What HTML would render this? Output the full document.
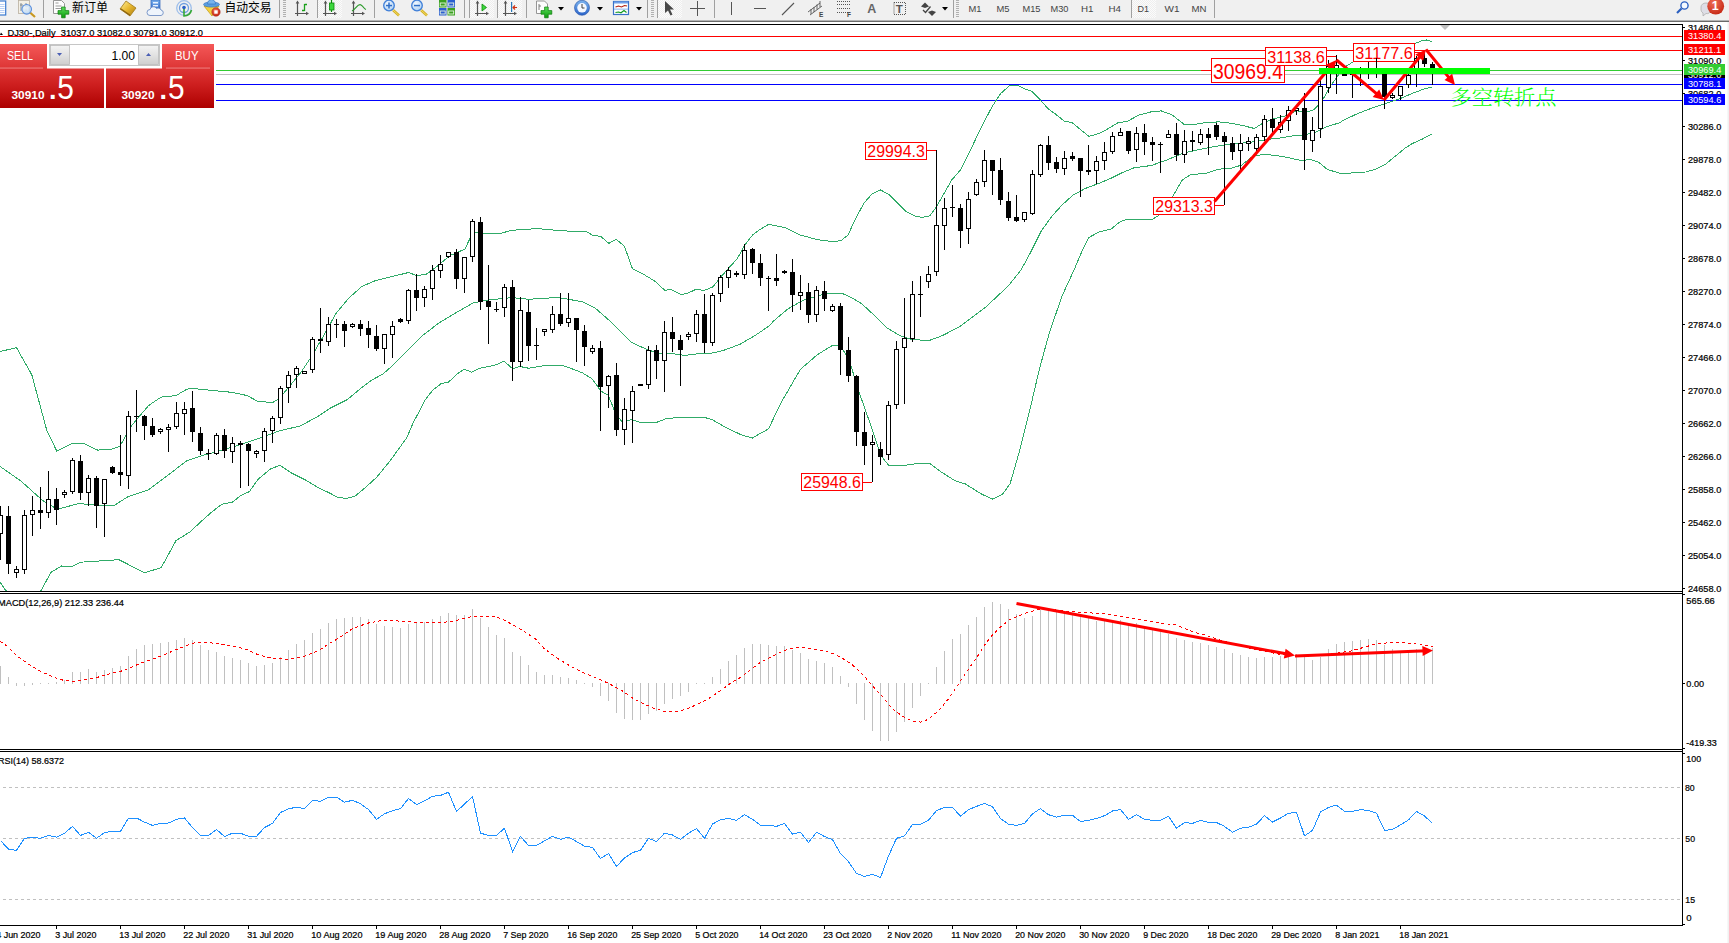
<!DOCTYPE html>
<html><head><meta charset="utf-8"><title>DJ30 Daily</title>
<style>html,body{margin:0;padding:0;background:#fff;overflow:hidden}svg{display:block}</style></head>
<body><svg width="1729" height="943" viewBox="0 0 1729 943" font-family='"Liberation Sans", "Noto Sans CJK SC", sans-serif'>
<rect x="0" y="0" width="1729" height="943" fill="#fff"/>
<rect x="0" y="0" width="1729" height="20" fill="#f0f0f0"/>
<rect x="0" y="20" width="1729" height="1" fill="#b4b4b4"/>
<rect x="0" y="21" width="1729" height="1" fill="#696969"/>
<defs><linearGradient id="gold" x1="0" y1="0" x2="1" y2="1"><stop offset="0" stop-color="#fff2a0"/><stop offset="0.5" stop-color="#e8b830"/><stop offset="1" stop-color="#a87810"/></linearGradient><linearGradient id="grn" x1="0" y1="0" x2="0" y2="1"><stop offset="0" stop-color="#5fe05f"/><stop offset="1" stop-color="#0a9a0a"/></linearGradient><linearGradient id="blu" x1="0" y1="0" x2="0" y2="1"><stop offset="0" stop-color="#7db4ee"/><stop offset="1" stop-color="#2a63c8"/></linearGradient><radialGradient id="lens" cx="0.4" cy="0.35" r="0.7"><stop offset="0" stop-color="#f4faff"/><stop offset="1" stop-color="#a9cdf2"/></radialGradient><radialGradient id="redb" cx="0.4" cy="0.3" r="0.8"><stop offset="0" stop-color="#f0705a"/><stop offset="1" stop-color="#c0200c"/></radialGradient><pattern id="dots" width="2" height="2" patternUnits="userSpaceOnUse"><rect width="2" height="2" fill="#fbfbfb"/><rect width="1" height="1" fill="#eeeeee"/><rect x="1" y="1" width="1" height="1" fill="#eeeeee"/></pattern></defs>
<rect x="-2" y="1" width="7.7" height="14" fill="#fff" stroke="#3b7bd0" stroke-width="1.2"/>
<rect x="0" y="4" width="4.5" height="1" fill="#b9d0f4"/>
<rect x="0" y="6" width="4.5" height="1" fill="#b9d0f4"/>
<rect x="0" y="8" width="4.5" height="1" fill="#b9d0f4"/>
<rect x="0" y="10" width="4.5" height="1" fill="#b9d0f4"/>
<rect x="0" y="12" width="4.5" height="1" fill="#b9d0f4"/>
<rect x="18.5" y="0.5" width="11" height="13" fill="#f4f0e6" stroke="#b8b0a0" stroke-width="0.8"/>
<path d="M21,3 v8 M26,3 v8 M20,5 h3 M25,6 h3" stroke="#707880" stroke-width="0.8" fill="none"/>
<line x1="30" y1="12.5" x2="35" y2="17" stroke="#c89820" stroke-width="2.2"/>
<circle cx="26.7" cy="9.3" r="4.8" fill="url(#lens)" fill-opacity="0.85" stroke="#5b8fdc" stroke-width="1.1"/>
<rect x="43" y="0" width="1" height="18" fill="#a0a0a0"/>
<path d="M53.5,0.5 h8 l3,3 v10 h-11 z" fill="#fdfdfd" stroke="#8a8a8a" stroke-width="0.9"/>
<path d="M55.5,3 h3 M55.5,6 h6 M55.5,8.5 h6" stroke="#909090" stroke-width="0.9"/>
<path d="M61.6,7 h3.6 v3.6 h3.6 v3.6 h-3.6 v3.6 h-3.6 v-3.6 h-3.6 v-3.6 h3.6 z" fill="url(#grn)" stroke="#0a7a0a" stroke-width="0.7"/>
<text x="72" y="12" font-size="12.2" fill="#000" textLength="36" lengthAdjust="spacingAndGlyphs">新订单</text>
<polygon points="120,9 126,1 136,8 130,16" fill="url(#gold)" stroke="#a07818" stroke-width="0.8"/>
<polygon points="120,9 130,16 130,14.5 121,8.3" fill="#8a6210"/>
<rect x="151" y="0" width="9" height="11" fill="url(#blu)" stroke="#2a5fb8" stroke-width="0.7"/>
<rect x="153" y="2" width="5" height="1.5" fill="#e8f2ff"/><rect x="153" y="5" width="5" height="1.5" fill="#e8f2ff"/>
<path d="M150,15.5 a3,3 0 0 1 0,-6 a3.5,3.5 0 0 1 6.5,-1 a3,3 0 0 1 4.5,1.5 a2.8,2.8 0 0 1 0,5.5 z" fill="#eef4fc" stroke="#6f8fc4" stroke-width="0.9"/>
<circle cx="184" cy="8" r="7.3" fill="none" stroke="#9fbfea" stroke-width="1.3"/>
<circle cx="184" cy="8" r="4.5" fill="none" stroke="#6f9fe0" stroke-width="1.3"/>
<path d="M184,8 v8 a8,8 0 0 0 7.5,-6" fill="none" stroke="#35a835" stroke-width="1.6"/>
<circle cx="184" cy="7.5" r="1.8" fill="#2a60c8"/>
<polygon points="204,6 219,6 212,16" fill="#f4d040" stroke="#c09a10" stroke-width="0.7"/>
<ellipse cx="211.5" cy="4.5" rx="8" ry="2.6" fill="#5a9ee0" stroke="#2f6fc0" stroke-width="0.6"/>
<path d="M207.5,4 a4,4.5 0 0 1 8,0 z" fill="#78b4ec" stroke="#2f6fc0" stroke-width="0.6"/>
<circle cx="216" cy="12" r="4.2" fill="url(#redb)" stroke="#a01808" stroke-width="0.5"/>
<rect x="214.3" y="10.3" width="3.4" height="3.4" fill="#fff"/>
<text x="224.5" y="12" font-size="12.2" fill="#000" textLength="47" lengthAdjust="spacingAndGlyphs">自动交易</text>
<rect x="279" y="0" width="1" height="18" fill="#a0a0a0"/>
<rect x="283" y="0" width="3" height="1" fill="#b0b0b0"/>
<rect x="283" y="2" width="3" height="1" fill="#b0b0b0"/>
<rect x="283" y="4" width="3" height="1" fill="#b0b0b0"/>
<rect x="283" y="6" width="3" height="1" fill="#b0b0b0"/>
<rect x="283" y="8" width="3" height="1" fill="#b0b0b0"/>
<rect x="283" y="10" width="3" height="1" fill="#b0b0b0"/>
<rect x="283" y="12" width="3" height="1" fill="#b0b0b0"/>
<rect x="283" y="14" width="3" height="1" fill="#b0b0b0"/>
<rect x="283" y="16" width="3" height="1" fill="#b0b0b0"/>
<path d="M297.5,2 V16 M295,13.5 H307.5" stroke="#555" stroke-width="1.2" fill="none"/>
<polygon points="297.5,0.5 295.7,3.5 299.3,3.5" fill="#555"/>
<polygon points="309,13.5 306,11.7 306,15.3" fill="#555"/>
<path d="M304.5,4 V11 M304.5,4.5 h2.5 M302,10.5 h2.5" stroke="#1aa01a" stroke-width="1.3" fill="none"/>
<rect x="317" y="0" width="1" height="18" fill="#a0a0a0"/>
<rect x="318" y="0" width="24" height="18" fill="url(#dots)"/>
<path d="M325.5,2 V16 M323,13.5 H335.5" stroke="#555" stroke-width="1.2" fill="none"/>
<polygon points="325.5,0.5 323.7,3.5 327.3,3.5" fill="#555"/>
<polygon points="337,13.5 334,11.7 334,15.3" fill="#555"/>
<path d="M331.5,0 V12" stroke="#0a8a0a" stroke-width="1.2"/>
<rect x="329.5" y="3" width="4.5" height="7" fill="#3ed83e" stroke="#0a8a0a" stroke-width="0.8"/>
<path d="M353.5,2 V16 M351,13.5 H363.5" stroke="#555" stroke-width="1.2" fill="none"/>
<polygon points="353.5,0.5 351.7,3.5 355.3,3.5" fill="#555"/>
<polygon points="365,13.5 362,11.7 362,15.3" fill="#555"/>
<path d="M352,11 C356,9 358,3 361,5 S364,9 366,9.5" fill="none" stroke="#2a9a2a" stroke-width="1.2"/>
<rect x="374" y="0" width="1" height="18" fill="#a0a0a0"/>
<line x1="393" y1="10" x2="399" y2="15.5" stroke="#d4b020" stroke-width="2.6"/>
<line x1="393" y1="10" x2="399" y2="15.5" stroke="#f4e070" stroke-width="0.9"/>
<circle cx="389" cy="5.5" r="5.3" fill="url(#lens)" stroke="#3f7fd8" stroke-width="1.3"/>
<rect x="386" y="4.8" width="6" height="1.5" fill="#2f6fc8"/>
<rect x="388.25" y="2.5" width="1.5" height="6" fill="#2f6fc8"/>
<line x1="421" y1="10" x2="427" y2="15.5" stroke="#d4b020" stroke-width="2.6"/>
<line x1="421" y1="10" x2="427" y2="15.5" stroke="#f4e070" stroke-width="0.9"/>
<circle cx="417" cy="5.5" r="5.3" fill="url(#lens)" stroke="#3f7fd8" stroke-width="1.3"/>
<rect x="414" y="4.8" width="6" height="1.5" fill="#2f6fc8"/>
<rect x="439" y="0" width="7.5" height="7.5" fill="#3aa020"/>
<rect x="440.2" y="3" width="5" height="3" fill="none" stroke="#e8f4e0" stroke-width="0.9"/>
<rect x="447.5" y="0" width="7.5" height="7.5" fill="#2a5fd0"/>
<rect x="448.7" y="3" width="5" height="3" fill="none" stroke="#e8f4e0" stroke-width="0.9"/>
<rect x="439" y="8" width="7.5" height="7.5" fill="#2a5fd0"/>
<rect x="440.2" y="11" width="5" height="3" fill="none" stroke="#e8f4e0" stroke-width="0.9"/>
<rect x="447.5" y="8" width="7.5" height="7.5" fill="#3aa020"/>
<rect x="448.7" y="11" width="5" height="3" fill="none" stroke="#e8f4e0" stroke-width="0.9"/>
<rect x="464" y="0" width="1" height="18" fill="#a0a0a0"/>
<rect x="469" y="0" width="1" height="18" fill="#a0a0a0"/>
<rect x="470" y="0" width="24" height="18" fill="url(#dots)"/>
<path d="M477.5,2 V16 M475,13.5 H487.5" stroke="#555" stroke-width="1.2" fill="none"/>
<polygon points="477.5,0.5 475.7,3.5 479.3,3.5" fill="#555"/>
<polygon points="489,13.5 486,11.7 486,15.3" fill="#555"/>
<polygon points="482,4 486.5,7.5 482,11" fill="#3ed83e" stroke="#0a8a0a" stroke-width="0.8"/>
<rect x="497" y="0" width="1" height="18" fill="#a0a0a0"/>
<rect x="498" y="0" width="24" height="18" fill="url(#dots)"/>
<path d="M505.5,2 V16 M503,13.5 H515.5" stroke="#555" stroke-width="1.2" fill="none"/>
<polygon points="505.5,0.5 503.7,3.5 507.3,3.5" fill="#555"/>
<polygon points="517,13.5 514,11.7 514,15.3" fill="#555"/>
<rect x="511" y="2" width="1.2" height="10" fill="#2a78b8"/>
<path d="M517,7.5 h-4 M515,5.5 l-2,2 l2,2" stroke="#d03010" stroke-width="1.1" fill="none"/>
<rect x="526" y="0" width="1" height="18" fill="#a0a0a0"/>
<path d="M536.5,1 h8 l3,3 v9.5 h-11 z" fill="#fdfdfd" stroke="#8a8a8a" stroke-width="0.9"/>
<path d="M539,4 v6 M539,6 h2" stroke="#707070" stroke-width="0.9"/>
<path d="M544.6,7 h3.6 v3.6 h3.6 v3.6 h-3.6 v3.6 h-3.6 v-3.6 h-3.6 v-3.6 h3.6 z" fill="url(#grn)" stroke="#0a7a0a" stroke-width="0.7"/>
<polygon points="558,7 564,7 561,10.5" fill="#000"/>
<circle cx="582" cy="7.8" r="7.5" fill="url(#blu)" stroke="#1f4fa8" stroke-width="0.6"/>
<circle cx="582" cy="7.8" r="4.8" fill="#f4f8ff"/>
<path d="M582,4 v4 h2.5" stroke="#404040" stroke-width="1" fill="none"/>
<polygon points="597,7 603,7 600,10.5" fill="#000"/>
<rect x="613.5" y="1.5" width="15" height="13" fill="#fff" stroke="#3a72c8" stroke-width="1.2"/>
<rect x="614" y="1.5" width="14" height="2" fill="#6fa0e8"/>
<path d="M615.5,7 l3,-1 l3,1 l3,-1.5 l2.5,0.5" stroke="#b02010" stroke-width="1.1" fill="none"/>
<rect x="614" y="8.7" width="14" height="0.8" fill="#6fa0e8"/>
<path d="M615.5,12.5 l3,-0.5 l2.5,0.8 l3,-2.3 l2.5,2" stroke="#109a20" stroke-width="1.1" fill="none"/>
<polygon points="636,7 642,7 639,10.5" fill="#000"/>
<rect x="647" y="0" width="1" height="18" fill="#a0a0a0"/>
<rect x="651" y="0" width="3" height="1" fill="#b0b0b0"/>
<rect x="651" y="2" width="3" height="1" fill="#b0b0b0"/>
<rect x="651" y="4" width="3" height="1" fill="#b0b0b0"/>
<rect x="651" y="6" width="3" height="1" fill="#b0b0b0"/>
<rect x="651" y="8" width="3" height="1" fill="#b0b0b0"/>
<rect x="651" y="10" width="3" height="1" fill="#b0b0b0"/>
<rect x="651" y="12" width="3" height="1" fill="#b0b0b0"/>
<rect x="651" y="14" width="3" height="1" fill="#b0b0b0"/>
<rect x="651" y="16" width="3" height="1" fill="#b0b0b0"/>
<rect x="657" y="0" width="1" height="18" fill="#a0a0a0"/>
<rect x="658" y="0" width="24" height="18" fill="url(#dots)"/>
<polygon points="665,1 665,13 668,10.5 670.5,15.5 672.5,14.5 670,9.5 674,9.5" fill="#484848"/>
<path d="M697.5,1 V16 M690,8.5 H705" stroke="#555" stroke-width="1"/>
<rect x="714" y="0" width="1" height="18" fill="#a0a0a0"/>
<rect x="731" y="2" width="1" height="13" fill="#555"/>
<rect x="754" y="8" width="12" height="1" fill="#555"/>
<line x1="782" y1="15" x2="794" y2="3" stroke="#555" stroke-width="1.1"/>
<path d="M808,12 l12,-9 M810,15 l12,-9 M811,9 v5 M814,7 v5 M817,4.5 v5 M820,1 v6" stroke="#555" stroke-width="0.9" fill="none"/>
<text x="819" y="17" font-size="6.5" font-weight="bold" fill="#444">E</text>
<line x1="837" y1="1.5" x2="850" y2="1.5" stroke="#555" stroke-width="1" stroke-dasharray="1 1"/>
<line x1="837" y1="4.5" x2="850" y2="4.5" stroke="#555" stroke-width="1" stroke-dasharray="1 1"/>
<line x1="837" y1="8.5" x2="850" y2="8.5" stroke="#555" stroke-width="1" stroke-dasharray="1 1"/>
<line x1="837" y1="12.5" x2="850" y2="12.5" stroke="#555" stroke-width="1" stroke-dasharray="1 1"/>
<text x="847" y="17" font-size="6.5" font-weight="bold" fill="#444">F</text>
<text x="867.3" y="13" font-size="12.5" font-weight="bold" fill="#666">A</text>
<rect x="894" y="2.5" width="11.5" height="12" fill="none" stroke="#555" stroke-width="1" stroke-dasharray="1 1"/>
<text x="895.8" y="13" font-size="11.5" font-weight="bold" fill="#555">T</text>
<polygon points="921,6.5 925,2.5 929,6.5 925,8" fill="#444"/>
<polygon points="928,12 932,10.5 936,12 932,16" fill="#444"/>
<path d="M923,10 l2.5,2.5 l5,-6" stroke="#444" stroke-width="1.3" fill="none"/>
<polygon points="942,7 948,7 945,10.5" fill="#000"/>
<rect x="953" y="0" width="1" height="18" fill="#a0a0a0"/>
<rect x="956" y="0" width="3" height="1" fill="#b0b0b0"/>
<rect x="956" y="2" width="3" height="1" fill="#b0b0b0"/>
<rect x="956" y="4" width="3" height="1" fill="#b0b0b0"/>
<rect x="956" y="6" width="3" height="1" fill="#b0b0b0"/>
<rect x="956" y="8" width="3" height="1" fill="#b0b0b0"/>
<rect x="956" y="10" width="3" height="1" fill="#b0b0b0"/>
<rect x="956" y="12" width="3" height="1" fill="#b0b0b0"/>
<rect x="956" y="14" width="3" height="1" fill="#b0b0b0"/>
<rect x="956" y="16" width="3" height="1" fill="#b0b0b0"/>
<text x="968.5" y="12.2" font-size="9.6" fill="#444" textLength="13" lengthAdjust="spacingAndGlyphs">M1</text>
<text x="996.5" y="12.2" font-size="9.6" fill="#444" textLength="13" lengthAdjust="spacingAndGlyphs">M5</text>
<text x="1022.5" y="12.2" font-size="9.6" fill="#444" textLength="18" lengthAdjust="spacingAndGlyphs">M15</text>
<text x="1050.5" y="12.2" font-size="9.6" fill="#444" textLength="18" lengthAdjust="spacingAndGlyphs">M30</text>
<text x="1081" y="12.2" font-size="9.6" fill="#444" textLength="12.5" lengthAdjust="spacingAndGlyphs">H1</text>
<text x="1108.5" y="12.2" font-size="9.6" fill="#444" textLength="12.5" lengthAdjust="spacingAndGlyphs">H4</text>
<rect x="1131" y="0" width="1" height="18" fill="#a0a0a0"/>
<rect x="1132" y="0" width="24" height="18" fill="url(#dots)"/>
<text x="1137.5" y="12.2" font-size="9.6" fill="#444" textLength="11.5" lengthAdjust="spacingAndGlyphs">D1</text>
<text x="1164.5" y="12.2" font-size="9.6" fill="#444" textLength="15" lengthAdjust="spacingAndGlyphs">W1</text>
<text x="1191.5" y="12.2" font-size="9.6" fill="#444" textLength="15" lengthAdjust="spacingAndGlyphs">MN</text>
<rect x="1214" y="0" width="1" height="18" fill="#a0a0a0"/>
<line x1="1677" y1="13" x2="1681.5" y2="8.5" stroke="#2a5fc0" stroke-width="2.2"/>
<circle cx="1684.5" cy="5.5" r="3.6" fill="#f4f9ff" stroke="#2a5fc0" stroke-width="1.4"/>
<path d="M1701,7 a5,4 0 0 1 10,0 v3 a4,4 0 0 1 -5,3.5 l-3,2.5 v-3 a4,4 0 0 1 -2,-3 z" fill="#dedee6" stroke="#b0b0b0" stroke-width="0.8"/>
<circle cx="1715.7" cy="6.2" r="8.4" fill="url(#redb)"/>
<text x="1715.3" y="10" font-size="12.5" font-weight="bold" fill="#fff" text-anchor="middle">1</text>
<rect x="1727.5" y="22" width="1.5" height="921" fill="#f0f0f0"/>
<rect x="0" y="24" width="1683" height="1" fill="#000"/>
<rect x="0" y="591" width="1683" height="1" fill="#000"/>
<rect x="0" y="593" width="1683" height="1" fill="#000"/>
<rect x="0" y="749" width="1683" height="1" fill="#000"/>
<rect x="0" y="751" width="1683" height="1" fill="#000"/>
<rect x="0" y="925" width="1683" height="1" fill="#000"/>
<rect x="1682" y="24" width="1" height="902" fill="#000"/>
<g shape-rendering="crispEdges">
<rect x="0" y="36" width="1682" height="1" fill="#ff0000"/>
<rect x="216" y="50" width="1466" height="1" fill="#ff0000"/>
<rect x="216" y="70" width="1466" height="1" fill="#32cd32"/>
<rect x="216" y="74" width="1466" height="1" fill="#c0c0c0"/>
<rect x="216" y="84" width="1466" height="1" fill="#0000ff"/>
<rect x="216" y="100" width="1466" height="1" fill="#0000ff"/>
</g>
<defs><clipPath id="cm"><rect x="0" y="25" width="1682" height="566"/></clipPath></defs>
<g clip-path="url(#cm)">
<polyline points="0.0,351.5 16.5,347.7 31.8,374.8 46.7,430.0 56.8,451.2 73.2,443.1 84.8,443.8 97.6,450.1 112.4,449.0 119.8,446.5 131.5,425.7 148.5,405.6 161.2,397.1 176.0,395.6 186.6,389.3 193.0,388.0 200.0,389.3 211.2,390.3 232.4,392.4 247.3,395.6 257.9,401.5 272.7,402.4 279.1,398.8 289.7,386.0 300.3,373.3 310.9,357.4 321.5,339.4 336.3,312.9 349.0,298.0 361.8,286.4 374.5,281.0 380.0,279.5 394.8,275.9 408.6,272.5 416.0,275.3 425.6,274.7 435.1,267.9 450.0,255.6 464.8,249.2 473.3,231.8 481.8,233.9 498.8,233.9 511.5,230.3 537.0,228.6 562.4,230.8 572.0,231.2 585.6,231.2 592.6,235.3 600.7,236.4 608.8,243.4 616.3,239.3 624.4,246.3 632.5,268.8 644.0,274.6 655.6,281.6 664.9,290.5 670.6,289.1 681.0,294.6 688.0,293.1 696.1,289.3 704.2,290.5 712.9,286.8 720.4,277.5 728.5,268.2 737.1,259.0 744.7,245.1 752.8,234.7 760.9,228.9 768.5,224.4 785.5,227.6 800.3,235.0 817.3,239.6 830.0,241.3 840.6,240.9 848.0,235.0 855.4,219.1 863.9,203.2 872.4,193.6 880.5,190.0 889.4,194.7 897.9,203.2 906.3,211.7 914.8,215.9 922.2,217.4 929.7,215.9 936.0,207.4 944.5,192.6 951.9,179.8 960.6,169.7 971.2,148.5 981.8,126.2 992.4,106.1 1000.9,93.3 1009.4,85.9 1017.9,85.3 1026.4,89.5 1031.7,91.2 1039.1,98.6 1047.6,108.2 1056.0,114.5 1064.5,121.3 1072.0,122.6 1081.5,130.4 1088.9,136.4 1098.5,133.6 1107.0,129.4 1117.6,123.0 1128.2,120.9 1138.8,115.0 1150.6,112.0 1161.2,110.9 1171.8,114.7 1184.5,124.7 1195.1,124.3 1205.7,122.6 1218.5,121.9 1231.2,123.2 1241.8,125.3 1254.5,128.5 1262.0,123.6 1271.5,119.4 1284.2,116.2 1296.9,110.9 1307.5,112.0 1313.9,109.8 1322.4,100.3 1330.9,85.5 1340.0,72.7 1345.5,66.7 1353.2,61.8 1415.0,43.4 1421.9,40.8 1426.5,40.0 1432.0,41.4" fill="none" stroke="#30ab68" stroke-width="1" shape-rendering="crispEdges"/>
<polyline points="0.0,466.4 21.2,481.2 42.4,500.3 57.3,509.4 78.5,503.5 97.6,505.2 114.5,505.2 127.3,497.1 148.5,489.7 169.7,473.8 186.6,461.0 200.0,456.2 207.0,454.3 223.9,449.7 240.9,444.4 260.0,438.0 279.1,431.0 300.3,425.9 317.3,416.8 330.0,408.3 347.0,399.8 359.7,389.2 372.4,379.7 383.0,374.0 392.7,365.4 405.4,352.7 422.4,335.7 439.4,322.6 456.4,312.4 473.3,302.9 490.3,299.7 503.0,298.6 511.5,297.6 528.5,299.3 545.4,298.2 558.2,297.6 570.9,299.7 582.7,302.0 595.5,308.3 612.4,323.2 631.5,342.3 646.4,349.3 659.1,353.5 671.8,353.5 684.5,355.4 697.3,353.9 710.0,353.5 722.7,350.7 739.7,344.4 754.5,335.9 770.0,325.3 772.7,321.8 787.6,309.1 802.4,300.6 819.4,295.3 832.1,293.2 841.7,293.2 851.2,297.4 861.8,303.8 874.5,315.5 887.3,328.2 900.0,335.6 912.7,339.8 929.7,340.3 942.4,335.6 960.0,326.5 985.8,307.1 1008.7,285.5 1021.0,270.0 1030.6,252.4 1041.2,231.2 1051.8,216.3 1062.4,204.7 1073.0,195.1 1085.7,188.3 1098.5,183.5 1111.2,178.2 1121.8,172.9 1134.5,167.6 1146.0,166.3 1152.7,165.0 1167.6,159.7 1182.4,153.3 1199.4,149.5 1214.2,146.5 1229.1,144.4 1241.8,143.1 1254.5,141.7 1267.2,139.5 1280.0,138.0 1292.7,135.9 1305.4,134.7 1316.0,132.1 1326.6,126.8 1340.0,122.6 1343.7,120.0 1358.3,113.3 1375.4,106.8 1387.6,102.9 1399.8,98.8 1412.0,93.5 1424.0,89.0 1432.0,87.2" fill="none" stroke="#30ab68" stroke-width="1" shape-rendering="crispEdges"/>
<polyline points="0.0,582.0 5.3,590.0 23.0,604.0 41.4,590.0 50.9,572.4 61.5,566.0 72.0,566.5 80.6,562.2 118.8,559.7 127.3,563.9 144.2,572.8 161.2,567.7 176.0,540.6 190.0,531.9 200.6,522.0 211.2,512.4 221.8,504.3 232.4,502.2 240.9,495.4 249.4,491.6 257.9,479.5 270.6,468.9 280.1,465.3 291.8,473.2 304.5,479.5 317.3,487.0 330.0,493.3 338.5,497.6 347.0,498.4 355.4,495.9 366.0,487.0 376.6,477.4 389.5,461.6 406.9,437.6 413.3,422.4 419.6,410.9 424.7,400.7 432.4,390.5 441.3,383.5 448.3,382.3 457.8,373.4 464.2,369.2 471.8,372.3 479.4,368.3 490.0,366.1 494.5,365.4 504.0,361.2 512.5,368.6 520.0,366.5 528.5,368.2 545.4,365.4 562.4,365.4 572.0,368.8 582.7,373.0 592.3,379.0 600.8,391.0 608.2,395.3 615.6,413.3 622.0,421.8 631.5,419.7 640.0,422.2 657.0,422.2 665.4,419.0 680.3,417.1 703.6,417.1 712.1,419.7 727.0,428.2 741.8,435.0 752.4,438.1 760.5,433.3 768.5,428.9 781.2,402.4 800.3,369.5 817.3,354.7 832.1,345.6 840.6,345.6 849.1,360.0 859.7,393.9 872.4,430.0 880.9,455.4 888.3,465.0 900.0,466.0 917.0,463.5 929.7,463.5 940.0,471.2 955.3,480.9 965.5,484.0 980.7,493.6 992.2,499.2 1002.4,494.2 1010.0,484.0 1018.9,453.4 1031.6,402.5 1039.3,369.4 1049.4,332.5 1062.2,295.6 1074.0,270.0 1081.5,252.4 1088.9,237.5 1098.5,232.2 1111.2,229.0 1119.7,222.0 1126.0,219.5 1146.0,219.2 1152.7,219.1 1161.2,213.8 1171.8,197.9 1182.4,179.8 1190.9,174.5 1205.7,173.5 1218.5,169.2 1231.2,168.2 1241.8,165.0 1252.4,156.5 1263.0,154.4 1275.7,155.4 1288.5,157.6 1301.2,160.6 1311.0,159.5 1319.0,162.5 1327.5,169.5 1335.1,171.8 1341.2,173.5 1353.4,172.9 1365.6,172.0 1375.4,169.3 1385.1,164.6 1394.9,156.5 1404.6,148.5 1412.0,143.7 1421.7,139.4 1432.0,133.9" fill="none" stroke="#30ab68" stroke-width="1" shape-rendering="crispEdges"/>
<line x1="862" y1="482.5" x2="872" y2="482.5" stroke="#f00" stroke-width="1" shape-rendering="crispEdges"/>
<rect x="801.5" y="473.5" width="61" height="17" fill="#fff" stroke="#f00" stroke-width="1"/>
<text x="803.3" y="488" font-size="16.3" fill="#f00" textLength="57.5" lengthAdjust="spacingAndGlyphs" >25948.6</text>
<line x1="926" y1="150.5" x2="936" y2="150.5" stroke="#f00" stroke-width="1" shape-rendering="crispEdges"/>
<rect x="865.5" y="142.5" width="61" height="17" fill="#fff" stroke="#f00" stroke-width="1"/>
<text x="867.3" y="157" font-size="16.3" fill="#f00" textLength="57.5" lengthAdjust="spacingAndGlyphs" >29994.3</text>
<line x1="1214" y1="205.5" x2="1224" y2="205.5" stroke="#f00" stroke-width="1" shape-rendering="crispEdges"/>
<rect x="1153.5" y="197.5" width="61" height="17" fill="#fff" stroke="#f00" stroke-width="1"/>
<text x="1155.3" y="212" font-size="16.3" fill="#f00" textLength="57.5" lengthAdjust="spacingAndGlyphs" >29313.3</text>
<line x1="1201" y1="70.5" x2="1211" y2="70.5" stroke="#f00" stroke-width="1" shape-rendering="crispEdges"/>
<rect x="1211.5" y="58.5" width="73" height="24" fill="#fff" stroke="#f00" stroke-width="1"/>
<text x="1213" y="79" font-size="22" fill="#f00" textLength="70" lengthAdjust="spacingAndGlyphs" >30969.4</text>
<line x1="1326" y1="56.5" x2="1336" y2="56.5" stroke="#f00" stroke-width="1" shape-rendering="crispEdges"/>
<rect x="1265.5" y="47.5" width="61" height="18" fill="#fff" stroke="#f00" stroke-width="1"/>
<text x="1267.3" y="62.5" font-size="16.3" fill="#f00" textLength="57.5" lengthAdjust="spacingAndGlyphs" >31138.6</text>
<line x1="1414" y1="52.5" x2="1424" y2="52.5" stroke="#f00" stroke-width="1" shape-rendering="crispEdges"/>
<rect x="1353.5" y="43.5" width="61" height="18" fill="#fff" stroke="#f00" stroke-width="1"/>
<text x="1355.3" y="58.5" font-size="16.3" fill="#f00" textLength="57.5" lengthAdjust="spacingAndGlyphs" >31177.6</text>
<g shape-rendering="crispEdges">
<rect x="0" y="506" width="1" height="54" fill="#000"/>
<rect x="-2" y="515" width="5" height="19" fill="#000"/>
<rect x="-1" y="516" width="3" height="17" fill="#fff"/>
<rect x="8" y="506" width="1" height="68" fill="#000"/>
<rect x="6" y="516" width="5" height="48" fill="#000"/>
<rect x="16" y="566" width="1" height="12" fill="#000"/>
<rect x="14" y="569" width="5" height="4" fill="#000"/>
<rect x="15" y="570" width="3" height="2" fill="#fff"/>
<rect x="24" y="510" width="1" height="64" fill="#000"/>
<rect x="22" y="515" width="5" height="55" fill="#000"/>
<rect x="23" y="516" width="3" height="53" fill="#fff"/>
<rect x="32" y="496" width="1" height="40" fill="#000"/>
<rect x="30" y="510" width="5" height="5" fill="#000"/>
<rect x="31" y="511" width="3" height="3" fill="#fff"/>
<rect x="40" y="487" width="1" height="42" fill="#000"/>
<rect x="38" y="510" width="5" height="3" fill="#000"/>
<rect x="48" y="471" width="1" height="47" fill="#000"/>
<rect x="46" y="499" width="5" height="14" fill="#000"/>
<rect x="47" y="500" width="3" height="12" fill="#fff"/>
<rect x="56" y="488" width="1" height="37" fill="#000"/>
<rect x="54" y="499" width="5" height="11" fill="#000"/>
<rect x="64" y="490" width="1" height="8" fill="#000"/>
<rect x="62" y="492" width="5" height="3" fill="#000"/>
<rect x="63" y="493" width="3" height="1" fill="#fff"/>
<rect x="72" y="458" width="1" height="36" fill="#000"/>
<rect x="70" y="460" width="5" height="32" fill="#000"/>
<rect x="71" y="461" width="3" height="30" fill="#fff"/>
<rect x="80" y="455" width="1" height="45" fill="#000"/>
<rect x="78" y="461" width="5" height="32" fill="#000"/>
<rect x="88" y="475" width="1" height="31" fill="#000"/>
<rect x="86" y="478" width="5" height="15" fill="#000"/>
<rect x="87" y="479" width="3" height="13" fill="#fff"/>
<rect x="96" y="476" width="1" height="52" fill="#000"/>
<rect x="94" y="478" width="5" height="28" fill="#000"/>
<rect x="104" y="479" width="1" height="58" fill="#000"/>
<rect x="102" y="479" width="5" height="25" fill="#000"/>
<rect x="103" y="480" width="3" height="23" fill="#fff"/>
<rect x="112" y="466" width="1" height="8" fill="#000"/>
<rect x="110" y="467" width="5" height="6" fill="#000"/>
<rect x="120" y="435" width="1" height="51" fill="#000"/>
<rect x="118" y="472" width="5" height="3" fill="#000"/>
<rect x="128" y="411" width="1" height="78" fill="#000"/>
<rect x="126" y="416" width="5" height="60" fill="#000"/>
<rect x="127" y="417" width="3" height="58" fill="#fff"/>
<rect x="136" y="390" width="1" height="42" fill="#000"/>
<rect x="134" y="416" width="5" height="1" fill="#000"/>
<rect x="144" y="415" width="1" height="25" fill="#000"/>
<rect x="142" y="416" width="5" height="10" fill="#000"/>
<rect x="152" y="418" width="1" height="19" fill="#000"/>
<rect x="150" y="426" width="5" height="9" fill="#000"/>
<rect x="160" y="428" width="1" height="6" fill="#000"/>
<rect x="158" y="429" width="5" height="3" fill="#000"/>
<rect x="159" y="430" width="3" height="1" fill="#fff"/>
<rect x="168" y="424" width="1" height="28" fill="#000"/>
<rect x="166" y="427" width="5" height="3" fill="#000"/>
<rect x="167" y="428" width="3" height="1" fill="#fff"/>
<rect x="176" y="402" width="1" height="27" fill="#000"/>
<rect x="174" y="413" width="5" height="14" fill="#000"/>
<rect x="175" y="414" width="3" height="12" fill="#fff"/>
<rect x="184" y="402" width="1" height="33" fill="#000"/>
<rect x="182" y="409" width="5" height="5" fill="#000"/>
<rect x="183" y="410" width="3" height="3" fill="#fff"/>
<rect x="192" y="391" width="1" height="51" fill="#000"/>
<rect x="190" y="408" width="5" height="24" fill="#000"/>
<rect x="200" y="427" width="1" height="28" fill="#000"/>
<rect x="198" y="433" width="5" height="18" fill="#000"/>
<rect x="208" y="449" width="1" height="11" fill="#000"/>
<rect x="206" y="453" width="5" height="1" fill="#000"/>
<rect x="216" y="433" width="1" height="22" fill="#000"/>
<rect x="214" y="435" width="5" height="19" fill="#000"/>
<rect x="215" y="436" width="3" height="17" fill="#fff"/>
<rect x="224" y="429" width="1" height="29" fill="#000"/>
<rect x="222" y="435" width="5" height="16" fill="#000"/>
<rect x="232" y="437" width="1" height="26" fill="#000"/>
<rect x="230" y="443" width="5" height="9" fill="#000"/>
<rect x="231" y="444" width="3" height="7" fill="#fff"/>
<rect x="240" y="441" width="1" height="47" fill="#000"/>
<rect x="238" y="443" width="5" height="2" fill="#000"/>
<rect x="248" y="443" width="1" height="43" fill="#000"/>
<rect x="246" y="444" width="5" height="7" fill="#000"/>
<rect x="256" y="450" width="1" height="8" fill="#000"/>
<rect x="254" y="451" width="5" height="3" fill="#000"/>
<rect x="255" y="452" width="3" height="1" fill="#fff"/>
<rect x="264" y="428" width="1" height="34" fill="#000"/>
<rect x="262" y="431" width="5" height="20" fill="#000"/>
<rect x="263" y="432" width="3" height="18" fill="#fff"/>
<rect x="272" y="416" width="1" height="27" fill="#000"/>
<rect x="270" y="418" width="5" height="13" fill="#000"/>
<rect x="271" y="419" width="3" height="11" fill="#fff"/>
<rect x="280" y="386" width="1" height="38" fill="#000"/>
<rect x="278" y="388" width="5" height="30" fill="#000"/>
<rect x="279" y="389" width="3" height="28" fill="#fff"/>
<rect x="288" y="371" width="1" height="32" fill="#000"/>
<rect x="286" y="375" width="5" height="13" fill="#000"/>
<rect x="287" y="376" width="3" height="11" fill="#fff"/>
<rect x="296" y="366" width="1" height="22" fill="#000"/>
<rect x="294" y="368" width="5" height="7" fill="#000"/>
<rect x="295" y="369" width="3" height="5" fill="#fff"/>
<rect x="304" y="371" width="1" height="3" fill="#000"/>
<rect x="302" y="371" width="5" height="3" fill="#000"/>
<rect x="303" y="372" width="3" height="1" fill="#fff"/>
<rect x="312" y="337" width="1" height="36" fill="#000"/>
<rect x="310" y="339" width="5" height="31" fill="#000"/>
<rect x="311" y="340" width="3" height="29" fill="#fff"/>
<rect x="320" y="308" width="1" height="45" fill="#000"/>
<rect x="318" y="339" width="5" height="2" fill="#000"/>
<rect x="328" y="317" width="1" height="29" fill="#000"/>
<rect x="326" y="324" width="5" height="18" fill="#000"/>
<rect x="327" y="325" width="3" height="16" fill="#fff"/>
<rect x="336" y="319" width="1" height="19" fill="#000"/>
<rect x="334" y="324" width="5" height="1" fill="#000"/>
<rect x="344" y="321" width="1" height="26" fill="#000"/>
<rect x="342" y="324" width="5" height="7" fill="#000"/>
<rect x="352" y="323" width="1" height="5" fill="#000"/>
<rect x="350" y="324" width="5" height="3" fill="#000"/>
<rect x="351" y="325" width="3" height="1" fill="#fff"/>
<rect x="360" y="320" width="1" height="16" fill="#000"/>
<rect x="358" y="324" width="5" height="5" fill="#000"/>
<rect x="368" y="321" width="1" height="27" fill="#000"/>
<rect x="366" y="328" width="5" height="7" fill="#000"/>
<rect x="376" y="325" width="1" height="26" fill="#000"/>
<rect x="374" y="336" width="5" height="13" fill="#000"/>
<rect x="384" y="334" width="1" height="30" fill="#000"/>
<rect x="382" y="334" width="5" height="15" fill="#000"/>
<rect x="383" y="335" width="3" height="13" fill="#fff"/>
<rect x="392" y="321" width="1" height="37" fill="#000"/>
<rect x="390" y="326" width="5" height="9" fill="#000"/>
<rect x="391" y="327" width="3" height="7" fill="#fff"/>
<rect x="400" y="318" width="1" height="5" fill="#000"/>
<rect x="398" y="319" width="5" height="3" fill="#000"/>
<rect x="408" y="289" width="1" height="35" fill="#000"/>
<rect x="406" y="290" width="5" height="31" fill="#000"/>
<rect x="407" y="291" width="3" height="29" fill="#fff"/>
<rect x="416" y="274" width="1" height="37" fill="#000"/>
<rect x="414" y="290" width="5" height="8" fill="#000"/>
<rect x="424" y="286" width="1" height="21" fill="#000"/>
<rect x="422" y="289" width="5" height="9" fill="#000"/>
<rect x="423" y="290" width="3" height="7" fill="#fff"/>
<rect x="432" y="265" width="1" height="35" fill="#000"/>
<rect x="430" y="270" width="5" height="19" fill="#000"/>
<rect x="431" y="271" width="3" height="17" fill="#fff"/>
<rect x="440" y="255" width="1" height="23" fill="#000"/>
<rect x="438" y="264" width="5" height="7" fill="#000"/>
<rect x="439" y="265" width="3" height="5" fill="#fff"/>
<rect x="448" y="252" width="1" height="6" fill="#000"/>
<rect x="446" y="252" width="5" height="5" fill="#000"/>
<rect x="447" y="253" width="3" height="3" fill="#fff"/>
<rect x="456" y="249" width="1" height="40" fill="#000"/>
<rect x="454" y="252" width="5" height="27" fill="#000"/>
<rect x="464" y="257" width="1" height="36" fill="#000"/>
<rect x="462" y="257" width="5" height="22" fill="#000"/>
<rect x="463" y="258" width="3" height="20" fill="#fff"/>
<rect x="472" y="219" width="1" height="43" fill="#000"/>
<rect x="470" y="221" width="5" height="36" fill="#000"/>
<rect x="471" y="222" width="3" height="34" fill="#fff"/>
<rect x="480" y="217" width="1" height="93" fill="#000"/>
<rect x="478" y="222" width="5" height="80" fill="#000"/>
<rect x="488" y="265" width="1" height="79" fill="#000"/>
<rect x="486" y="301" width="5" height="6" fill="#000"/>
<rect x="496" y="302" width="1" height="10" fill="#000"/>
<rect x="494" y="309" width="5" height="1" fill="#000"/>
<rect x="504" y="284" width="1" height="33" fill="#000"/>
<rect x="502" y="287" width="5" height="21" fill="#000"/>
<rect x="503" y="288" width="3" height="19" fill="#fff"/>
<rect x="512" y="280" width="1" height="101" fill="#000"/>
<rect x="510" y="287" width="5" height="75" fill="#000"/>
<rect x="520" y="297" width="1" height="70" fill="#000"/>
<rect x="518" y="310" width="5" height="52" fill="#000"/>
<rect x="519" y="311" width="3" height="50" fill="#fff"/>
<rect x="528" y="300" width="1" height="61" fill="#000"/>
<rect x="526" y="312" width="5" height="34" fill="#000"/>
<rect x="536" y="328" width="1" height="32" fill="#000"/>
<rect x="534" y="345" width="5" height="1" fill="#000"/>
<rect x="544" y="329" width="1" height="7" fill="#000"/>
<rect x="542" y="329" width="5" height="3" fill="#000"/>
<rect x="543" y="330" width="3" height="1" fill="#fff"/>
<rect x="552" y="306" width="1" height="27" fill="#000"/>
<rect x="550" y="314" width="5" height="16" fill="#000"/>
<rect x="551" y="315" width="3" height="14" fill="#fff"/>
<rect x="560" y="293" width="1" height="33" fill="#000"/>
<rect x="558" y="314" width="5" height="10" fill="#000"/>
<rect x="568" y="293" width="1" height="34" fill="#000"/>
<rect x="566" y="318" width="5" height="5" fill="#000"/>
<rect x="567" y="319" width="3" height="3" fill="#fff"/>
<rect x="576" y="318" width="1" height="44" fill="#000"/>
<rect x="574" y="318" width="5" height="12" fill="#000"/>
<rect x="584" y="325" width="1" height="41" fill="#000"/>
<rect x="582" y="331" width="5" height="16" fill="#000"/>
<rect x="592" y="345" width="1" height="9" fill="#000"/>
<rect x="590" y="348" width="5" height="4" fill="#000"/>
<rect x="591" y="349" width="3" height="2" fill="#fff"/>
<rect x="600" y="341" width="1" height="90" fill="#000"/>
<rect x="598" y="348" width="5" height="39" fill="#000"/>
<rect x="608" y="375" width="1" height="33" fill="#000"/>
<rect x="606" y="376" width="5" height="10" fill="#000"/>
<rect x="607" y="377" width="3" height="8" fill="#fff"/>
<rect x="616" y="363" width="1" height="73" fill="#000"/>
<rect x="614" y="375" width="5" height="55" fill="#000"/>
<rect x="624" y="398" width="1" height="47" fill="#000"/>
<rect x="622" y="409" width="5" height="21" fill="#000"/>
<rect x="623" y="410" width="3" height="19" fill="#fff"/>
<rect x="632" y="386" width="1" height="57" fill="#000"/>
<rect x="630" y="391" width="5" height="20" fill="#000"/>
<rect x="631" y="392" width="3" height="18" fill="#fff"/>
<rect x="640" y="384" width="1" height="2" fill="#000"/>
<rect x="638" y="384" width="5" height="2" fill="#000"/>
<rect x="648" y="346" width="1" height="43" fill="#000"/>
<rect x="646" y="350" width="5" height="35" fill="#000"/>
<rect x="647" y="351" width="3" height="33" fill="#fff"/>
<rect x="656" y="345" width="1" height="34" fill="#000"/>
<rect x="654" y="350" width="5" height="11" fill="#000"/>
<rect x="664" y="321" width="1" height="71" fill="#000"/>
<rect x="662" y="332" width="5" height="29" fill="#000"/>
<rect x="663" y="333" width="3" height="27" fill="#fff"/>
<rect x="672" y="317" width="1" height="35" fill="#000"/>
<rect x="670" y="332" width="5" height="7" fill="#000"/>
<rect x="680" y="335" width="1" height="51" fill="#000"/>
<rect x="678" y="340" width="5" height="10" fill="#000"/>
<rect x="688" y="332" width="1" height="8" fill="#000"/>
<rect x="686" y="334" width="5" height="3" fill="#000"/>
<rect x="687" y="335" width="3" height="1" fill="#fff"/>
<rect x="696" y="310" width="1" height="32" fill="#000"/>
<rect x="694" y="314" width="5" height="20" fill="#000"/>
<rect x="695" y="315" width="3" height="18" fill="#fff"/>
<rect x="704" y="294" width="1" height="59" fill="#000"/>
<rect x="702" y="314" width="5" height="29" fill="#000"/>
<rect x="712" y="293" width="1" height="53" fill="#000"/>
<rect x="710" y="295" width="5" height="48" fill="#000"/>
<rect x="711" y="296" width="3" height="46" fill="#fff"/>
<rect x="720" y="275" width="1" height="27" fill="#000"/>
<rect x="718" y="277" width="5" height="17" fill="#000"/>
<rect x="719" y="278" width="3" height="15" fill="#fff"/>
<rect x="728" y="267" width="1" height="21" fill="#000"/>
<rect x="726" y="270" width="5" height="8" fill="#000"/>
<rect x="727" y="271" width="3" height="6" fill="#fff"/>
<rect x="736" y="271" width="1" height="6" fill="#000"/>
<rect x="734" y="273" width="5" height="2" fill="#000"/>
<rect x="744" y="244" width="1" height="35" fill="#000"/>
<rect x="742" y="250" width="5" height="25" fill="#000"/>
<rect x="743" y="251" width="3" height="23" fill="#fff"/>
<rect x="752" y="248" width="1" height="26" fill="#000"/>
<rect x="750" y="249" width="5" height="14" fill="#000"/>
<rect x="760" y="254" width="1" height="32" fill="#000"/>
<rect x="758" y="263" width="5" height="15" fill="#000"/>
<rect x="768" y="276" width="1" height="35" fill="#000"/>
<rect x="766" y="278" width="5" height="1" fill="#000"/>
<rect x="776" y="254" width="1" height="32" fill="#000"/>
<rect x="774" y="278" width="5" height="3" fill="#000"/>
<rect x="784" y="270" width="1" height="4" fill="#000"/>
<rect x="782" y="271" width="5" height="2" fill="#000"/>
<rect x="792" y="259" width="1" height="53" fill="#000"/>
<rect x="790" y="272" width="5" height="23" fill="#000"/>
<rect x="800" y="275" width="1" height="35" fill="#000"/>
<rect x="798" y="292" width="5" height="4" fill="#000"/>
<rect x="799" y="293" width="3" height="2" fill="#fff"/>
<rect x="808" y="283" width="1" height="40" fill="#000"/>
<rect x="806" y="292" width="5" height="23" fill="#000"/>
<rect x="816" y="286" width="1" height="36" fill="#000"/>
<rect x="814" y="290" width="5" height="25" fill="#000"/>
<rect x="815" y="291" width="3" height="23" fill="#fff"/>
<rect x="824" y="281" width="1" height="30" fill="#000"/>
<rect x="822" y="291" width="5" height="8" fill="#000"/>
<rect x="832" y="304" width="1" height="8" fill="#000"/>
<rect x="830" y="306" width="5" height="5" fill="#000"/>
<rect x="831" y="307" width="3" height="3" fill="#fff"/>
<rect x="840" y="303" width="1" height="72" fill="#000"/>
<rect x="838" y="306" width="5" height="44" fill="#000"/>
<rect x="848" y="337" width="1" height="45" fill="#000"/>
<rect x="846" y="350" width="5" height="26" fill="#000"/>
<rect x="856" y="375" width="1" height="71" fill="#000"/>
<rect x="854" y="376" width="5" height="56" fill="#000"/>
<rect x="864" y="412" width="1" height="53" fill="#000"/>
<rect x="862" y="432" width="5" height="14" fill="#000"/>
<rect x="872" y="435" width="1" height="47" fill="#000"/>
<rect x="870" y="442" width="5" height="3" fill="#000"/>
<rect x="871" y="443" width="3" height="1" fill="#fff"/>
<rect x="880" y="442" width="1" height="23" fill="#000"/>
<rect x="878" y="449" width="5" height="8" fill="#000"/>
<rect x="888" y="401" width="1" height="59" fill="#000"/>
<rect x="886" y="405" width="5" height="50" fill="#000"/>
<rect x="887" y="406" width="3" height="48" fill="#fff"/>
<rect x="896" y="341" width="1" height="68" fill="#000"/>
<rect x="894" y="349" width="5" height="56" fill="#000"/>
<rect x="895" y="350" width="3" height="54" fill="#fff"/>
<rect x="904" y="298" width="1" height="106" fill="#000"/>
<rect x="902" y="338" width="5" height="10" fill="#000"/>
<rect x="903" y="339" width="3" height="8" fill="#fff"/>
<rect x="912" y="281" width="1" height="61" fill="#000"/>
<rect x="910" y="294" width="5" height="45" fill="#000"/>
<rect x="911" y="295" width="3" height="43" fill="#fff"/>
<rect x="920" y="276" width="1" height="41" fill="#000"/>
<rect x="918" y="294" width="5" height="1" fill="#000"/>
<rect x="928" y="266" width="1" height="22" fill="#000"/>
<rect x="926" y="274" width="5" height="8" fill="#000"/>
<rect x="927" y="275" width="3" height="6" fill="#fff"/>
<rect x="936" y="150" width="1" height="126" fill="#000"/>
<rect x="934" y="225" width="5" height="47" fill="#000"/>
<rect x="935" y="226" width="3" height="45" fill="#fff"/>
<rect x="944" y="198" width="1" height="52" fill="#000"/>
<rect x="942" y="208" width="5" height="18" fill="#000"/>
<rect x="943" y="209" width="3" height="16" fill="#fff"/>
<rect x="952" y="185" width="1" height="32" fill="#000"/>
<rect x="950" y="207" width="5" height="1" fill="#000"/>
<rect x="960" y="204" width="1" height="44" fill="#000"/>
<rect x="958" y="208" width="5" height="23" fill="#000"/>
<rect x="968" y="192" width="1" height="52" fill="#000"/>
<rect x="966" y="199" width="5" height="30" fill="#000"/>
<rect x="967" y="200" width="3" height="28" fill="#fff"/>
<rect x="976" y="179" width="1" height="17" fill="#000"/>
<rect x="974" y="182" width="5" height="13" fill="#000"/>
<rect x="975" y="183" width="3" height="11" fill="#fff"/>
<rect x="984" y="150" width="1" height="37" fill="#000"/>
<rect x="982" y="160" width="5" height="22" fill="#000"/>
<rect x="983" y="161" width="3" height="20" fill="#fff"/>
<rect x="992" y="160" width="1" height="35" fill="#000"/>
<rect x="990" y="160" width="5" height="11" fill="#000"/>
<rect x="1000" y="158" width="1" height="47" fill="#000"/>
<rect x="998" y="170" width="5" height="30" fill="#000"/>
<rect x="1008" y="192" width="1" height="29" fill="#000"/>
<rect x="1006" y="201" width="5" height="17" fill="#000"/>
<rect x="1016" y="195" width="1" height="27" fill="#000"/>
<rect x="1014" y="217" width="5" height="4" fill="#000"/>
<rect x="1024" y="212" width="1" height="10" fill="#000"/>
<rect x="1022" y="212" width="5" height="8" fill="#000"/>
<rect x="1023" y="213" width="3" height="6" fill="#fff"/>
<rect x="1032" y="170" width="1" height="45" fill="#000"/>
<rect x="1030" y="174" width="5" height="40" fill="#000"/>
<rect x="1031" y="175" width="3" height="38" fill="#fff"/>
<rect x="1040" y="144" width="1" height="33" fill="#000"/>
<rect x="1038" y="145" width="5" height="30" fill="#000"/>
<rect x="1039" y="146" width="3" height="28" fill="#fff"/>
<rect x="1048" y="136" width="1" height="34" fill="#000"/>
<rect x="1046" y="145" width="5" height="18" fill="#000"/>
<rect x="1056" y="157" width="1" height="16" fill="#000"/>
<rect x="1054" y="162" width="5" height="7" fill="#000"/>
<rect x="1064" y="151" width="1" height="24" fill="#000"/>
<rect x="1062" y="158" width="5" height="11" fill="#000"/>
<rect x="1063" y="159" width="3" height="9" fill="#fff"/>
<rect x="1072" y="152" width="1" height="9" fill="#000"/>
<rect x="1070" y="156" width="5" height="3" fill="#000"/>
<rect x="1080" y="158" width="1" height="39" fill="#000"/>
<rect x="1078" y="158" width="5" height="13" fill="#000"/>
<rect x="1088" y="145" width="1" height="30" fill="#000"/>
<rect x="1086" y="170" width="5" height="2" fill="#000"/>
<rect x="1096" y="156" width="1" height="28" fill="#000"/>
<rect x="1094" y="161" width="5" height="10" fill="#000"/>
<rect x="1095" y="162" width="3" height="8" fill="#fff"/>
<rect x="1104" y="142" width="1" height="28" fill="#000"/>
<rect x="1102" y="152" width="5" height="9" fill="#000"/>
<rect x="1103" y="153" width="3" height="7" fill="#fff"/>
<rect x="1112" y="132" width="1" height="22" fill="#000"/>
<rect x="1110" y="136" width="5" height="16" fill="#000"/>
<rect x="1111" y="137" width="3" height="14" fill="#fff"/>
<rect x="1120" y="128" width="1" height="8" fill="#000"/>
<rect x="1118" y="132" width="5" height="4" fill="#000"/>
<rect x="1119" y="133" width="3" height="2" fill="#fff"/>
<rect x="1128" y="131" width="1" height="23" fill="#000"/>
<rect x="1126" y="131" width="5" height="20" fill="#000"/>
<rect x="1136" y="127" width="1" height="35" fill="#000"/>
<rect x="1134" y="133" width="5" height="17" fill="#000"/>
<rect x="1135" y="134" width="3" height="15" fill="#fff"/>
<rect x="1144" y="124" width="1" height="31" fill="#000"/>
<rect x="1142" y="133" width="5" height="9" fill="#000"/>
<rect x="1152" y="137" width="1" height="24" fill="#000"/>
<rect x="1150" y="142" width="5" height="3" fill="#000"/>
<rect x="1160" y="142" width="1" height="31" fill="#000"/>
<rect x="1158" y="144" width="5" height="1" fill="#000"/>
<rect x="1168" y="130" width="1" height="8" fill="#000"/>
<rect x="1166" y="134" width="5" height="4" fill="#000"/>
<rect x="1167" y="135" width="3" height="2" fill="#fff"/>
<rect x="1176" y="123" width="1" height="38" fill="#000"/>
<rect x="1174" y="134" width="5" height="21" fill="#000"/>
<rect x="1184" y="130" width="1" height="33" fill="#000"/>
<rect x="1182" y="141" width="5" height="14" fill="#000"/>
<rect x="1183" y="142" width="3" height="12" fill="#fff"/>
<rect x="1192" y="131" width="1" height="20" fill="#000"/>
<rect x="1190" y="140" width="5" height="2" fill="#000"/>
<rect x="1200" y="129" width="1" height="16" fill="#000"/>
<rect x="1198" y="134" width="5" height="9" fill="#000"/>
<rect x="1199" y="135" width="3" height="7" fill="#fff"/>
<rect x="1208" y="128" width="1" height="27" fill="#000"/>
<rect x="1206" y="134" width="5" height="4" fill="#000"/>
<rect x="1216" y="123" width="1" height="17" fill="#000"/>
<rect x="1214" y="125" width="5" height="12" fill="#000"/>
<rect x="1224" y="132" width="1" height="73" fill="#000"/>
<rect x="1222" y="136" width="5" height="6" fill="#000"/>
<rect x="1232" y="137" width="1" height="23" fill="#000"/>
<rect x="1230" y="143" width="5" height="9" fill="#000"/>
<rect x="1240" y="134" width="1" height="37" fill="#000"/>
<rect x="1238" y="143" width="5" height="8" fill="#000"/>
<rect x="1239" y="144" width="3" height="6" fill="#fff"/>
<rect x="1248" y="137" width="1" height="14" fill="#000"/>
<rect x="1246" y="141" width="5" height="3" fill="#000"/>
<rect x="1247" y="142" width="3" height="1" fill="#fff"/>
<rect x="1256" y="134" width="1" height="18" fill="#000"/>
<rect x="1254" y="137" width="5" height="12" fill="#000"/>
<rect x="1255" y="138" width="3" height="10" fill="#fff"/>
<rect x="1264" y="115" width="1" height="26" fill="#000"/>
<rect x="1262" y="119" width="5" height="18" fill="#000"/>
<rect x="1263" y="120" width="3" height="16" fill="#fff"/>
<rect x="1272" y="108" width="1" height="25" fill="#000"/>
<rect x="1270" y="119" width="5" height="9" fill="#000"/>
<rect x="1280" y="115" width="1" height="18" fill="#000"/>
<rect x="1278" y="122" width="5" height="8" fill="#000"/>
<rect x="1279" y="123" width="3" height="6" fill="#fff"/>
<rect x="1288" y="106" width="1" height="25" fill="#000"/>
<rect x="1286" y="110" width="5" height="11" fill="#000"/>
<rect x="1287" y="111" width="3" height="9" fill="#fff"/>
<rect x="1296" y="108" width="1" height="7" fill="#000"/>
<rect x="1294" y="108" width="5" height="3" fill="#000"/>
<rect x="1295" y="109" width="3" height="1" fill="#fff"/>
<rect x="1304" y="93" width="1" height="77" fill="#000"/>
<rect x="1302" y="108" width="5" height="32" fill="#000"/>
<rect x="1312" y="117" width="1" height="35" fill="#000"/>
<rect x="1310" y="130" width="5" height="11" fill="#000"/>
<rect x="1311" y="131" width="3" height="9" fill="#fff"/>
<rect x="1320" y="79" width="1" height="59" fill="#000"/>
<rect x="1318" y="86" width="5" height="43" fill="#000"/>
<rect x="1319" y="87" width="3" height="41" fill="#fff"/>
<rect x="1328" y="60" width="1" height="33" fill="#000"/>
<rect x="1326" y="66" width="5" height="22" fill="#000"/>
<rect x="1327" y="67" width="3" height="20" fill="#fff"/>
<rect x="1336" y="55" width="1" height="39" fill="#000"/>
<rect x="1334" y="65" width="5" height="6" fill="#000"/>
<rect x="1335" y="66" width="3" height="4" fill="#fff"/>
<rect x="1344" y="74" width="1" height="2" fill="#000"/>
<rect x="1342" y="74" width="5" height="2" fill="#000"/>
<rect x="1352" y="73" width="1" height="25" fill="#000"/>
<rect x="1350" y="74" width="5" height="1" fill="#000"/>
<rect x="1360" y="67" width="1" height="19" fill="#000"/>
<rect x="1358" y="70" width="5" height="4" fill="#000"/>
<rect x="1359" y="71" width="3" height="2" fill="#fff"/>
<rect x="1368" y="62" width="1" height="17" fill="#000"/>
<rect x="1366" y="69" width="5" height="4" fill="#000"/>
<rect x="1367" y="70" width="3" height="2" fill="#fff"/>
<rect x="1376" y="58" width="1" height="20" fill="#000"/>
<rect x="1374" y="68" width="5" height="5" fill="#000"/>
<rect x="1384" y="69" width="1" height="40" fill="#000"/>
<rect x="1382" y="69" width="5" height="28" fill="#000"/>
<rect x="1392" y="93" width="1" height="6" fill="#000"/>
<rect x="1390" y="95" width="5" height="3" fill="#000"/>
<rect x="1391" y="96" width="3" height="1" fill="#fff"/>
<rect x="1400" y="86" width="1" height="14" fill="#000"/>
<rect x="1398" y="86" width="5" height="10" fill="#000"/>
<rect x="1399" y="87" width="3" height="8" fill="#fff"/>
<rect x="1408" y="74" width="1" height="14" fill="#000"/>
<rect x="1406" y="75" width="5" height="10" fill="#000"/>
<rect x="1407" y="76" width="3" height="8" fill="#fff"/>
<rect x="1416" y="56" width="1" height="31" fill="#000"/>
<rect x="1414" y="58" width="5" height="16" fill="#000"/>
<rect x="1415" y="59" width="3" height="14" fill="#fff"/>
<rect x="1424" y="53" width="1" height="14" fill="#000"/>
<rect x="1422" y="58" width="5" height="6" fill="#000"/>
<rect x="1432" y="62" width="1" height="23" fill="#000"/>
<rect x="1430" y="64" width="5" height="10" fill="#000"/>
</g>
<line x1="1214.5" y1="201.5" x2="1332.4" y2="64.8" stroke="#f00" stroke-width="3"/>
<polygon points="1336.5,60.0 1333.4,71.2 1325.9,64.7" fill="#f00"/>
<line x1="1336.5" y1="60.0" x2="1379.2" y2="95.9" stroke="#f00" stroke-width="3"/>
<polygon points="1384.0,100.0 1372.7,97.1 1379.2,89.4" fill="#f00"/>
<line x1="1384.0" y1="100.0" x2="1422.0" y2="54.3" stroke="#f00" stroke-width="3"/>
<polygon points="1426.0,49.5 1423.1,60.8 1415.4,54.4" fill="#f00"/>
<line x1="1426.0" y1="49.5" x2="1451.0" y2="80.1" stroke="#f00" stroke-width="3"/>
<polygon points="1455.0,85.0 1444.5,80.0 1452.2,73.7" fill="#f00"/>
<rect x="1319" y="68" width="171" height="6" fill="#00ff00" shape-rendering="crispEdges"/>
<polygon points="1440,25 1450,25 1445,30" fill="#c0c0c0"/>
<text x="1450.5" y="104.6" font-size="20.6" fill="#00ff00" font-weight="300" textLength="106" lengthAdjust="spacingAndGlyphs" font-family='"Noto Serif CJK SC", "Noto Sans CJK SC", serif' >多空转折点</text>
</g>
<rect x="0" y="37" width="216" height="72" fill="#fff"/>
<defs><linearGradient id="rg" x1="0" y1="44" x2="0" y2="108" gradientUnits="userSpaceOnUse"><stop offset="0" stop-color="#f45858"/><stop offset="0.37" stop-color="#de3636"/><stop offset="0.62" stop-color="#cf2020"/><stop offset="1" stop-color="#ad0000"/></linearGradient><linearGradient id="bg1" x1="0" y1="0" x2="0" y2="1"><stop offset="0" stop-color="#f4f4f4"/><stop offset="0.5" stop-color="#e2e2e2"/><stop offset="1" stop-color="#cfcfcf"/></linearGradient></defs>
<rect x="0" y="44" width="47" height="25" fill="url(#rg)"/>
<rect x="162" y="44" width="52" height="25" fill="url(#rg)"/>
<rect x="0" y="68.5" width="104" height="39.5" fill="url(#rg)"/>
<rect x="106" y="68.5" width="108" height="39.5" fill="url(#rg)"/>
<rect x="0" y="67.6" width="43" height="0.9" fill="#f08a8a"/>
<rect x="166" y="67.6" width="44" height="0.9" fill="#f08a8a"/>
<rect x="49.5" y="44.5" width="110" height="21" fill="#fff" stroke="#c6c6c6"/>
<rect x="50.5" y="45.5" width="19" height="19" fill="url(#bg1)" stroke="#b8b8b8" stroke-width="0.8"/>
<rect x="138.5" y="45.5" width="20" height="19" fill="url(#bg1)" stroke="#b8b8b8" stroke-width="0.8"/>
<polygon points="57,53 62,53 59.5,56" fill="#4a5fb4"/>
<polygon points="146,56 151,56 148.5,53" fill="#4a5fb4"/>
<text x="135" y="59.6" font-size="12.5" fill="#000" text-anchor="end" textLength="23.5" lengthAdjust="spacingAndGlyphs" >1.00</text>
<text x="7" y="59.5" font-size="12.5" fill="#fff" textLength="26" lengthAdjust="spacingAndGlyphs" >SELL</text>
<text x="175" y="59.5" font-size="12.5" fill="#fff" textLength="23.5" lengthAdjust="spacingAndGlyphs" >BUY</text>
<text x="11.5" y="98.5" font-size="11.5" fill="#fff" font-weight="bold" textLength="33" lengthAdjust="spacingAndGlyphs" >30910</text>
<text x="121.5" y="98.5" font-size="11.5" fill="#fff" font-weight="bold" textLength="33" lengthAdjust="spacingAndGlyphs" >30920</text>
<text x="48.9" y="98.5" font-size="27" fill="#fff" font-weight="bold" >.</text>
<text x="57.3" y="98.5" font-size="33" fill="#fff" textLength="16.6" lengthAdjust="spacingAndGlyphs" >5</text>
<text x="159.4" y="98.5" font-size="27" fill="#fff" font-weight="bold" >.</text>
<text x="168" y="98.5" font-size="33" fill="#fff" textLength="16.6" lengthAdjust="spacingAndGlyphs" >5</text>
<polygon points="0,35 3,35 1,32.5" fill="#000"/>
<text x="7.5" y="36.1" font-size="9.6" fill="#000" textLength="195.5" lengthAdjust="spacingAndGlyphs" stroke="#000" stroke-width="0.22" xml:space="preserve">DJ30-,Daily  31037.0 31082.0 30791.0 30912.0</text>
<rect x="1683" y="27" width="2" height="1" fill="#000"/>
<text x="1688" y="30.6" font-size="9.6" fill="#000" textLength="33.3" lengthAdjust="spacingAndGlyphs" stroke="#000" stroke-width="0.22" >31486.0</text>
<rect x="1683" y="60" width="2" height="1" fill="#000"/>
<text x="1688" y="63.6" font-size="9.6" fill="#000" textLength="33.3" lengthAdjust="spacingAndGlyphs" stroke="#000" stroke-width="0.22" >31090.0</text>
<rect x="1683" y="93" width="2" height="1" fill="#000"/>
<text x="1688" y="96.6" font-size="9.6" fill="#000" textLength="33.3" lengthAdjust="spacingAndGlyphs" stroke="#000" stroke-width="0.22" >30682.0</text>
<rect x="1683" y="126" width="2" height="1" fill="#000"/>
<text x="1688" y="129.6" font-size="9.6" fill="#000" textLength="33.3" lengthAdjust="spacingAndGlyphs" stroke="#000" stroke-width="0.22" >30286.0</text>
<rect x="1683" y="159" width="2" height="1" fill="#000"/>
<text x="1688" y="162.6" font-size="9.6" fill="#000" textLength="33.3" lengthAdjust="spacingAndGlyphs" stroke="#000" stroke-width="0.22" >29878.0</text>
<rect x="1683" y="192" width="2" height="1" fill="#000"/>
<text x="1688" y="195.6" font-size="9.6" fill="#000" textLength="33.3" lengthAdjust="spacingAndGlyphs" stroke="#000" stroke-width="0.22" >29482.0</text>
<rect x="1683" y="225" width="2" height="1" fill="#000"/>
<text x="1688" y="228.6" font-size="9.6" fill="#000" textLength="33.3" lengthAdjust="spacingAndGlyphs" stroke="#000" stroke-width="0.22" >29074.0</text>
<rect x="1683" y="258" width="2" height="1" fill="#000"/>
<text x="1688" y="261.6" font-size="9.6" fill="#000" textLength="33.3" lengthAdjust="spacingAndGlyphs" stroke="#000" stroke-width="0.22" >28678.0</text>
<rect x="1683" y="291" width="2" height="1" fill="#000"/>
<text x="1688" y="294.6" font-size="9.6" fill="#000" textLength="33.3" lengthAdjust="spacingAndGlyphs" stroke="#000" stroke-width="0.22" >28270.0</text>
<rect x="1683" y="324" width="2" height="1" fill="#000"/>
<text x="1688" y="327.6" font-size="9.6" fill="#000" textLength="33.3" lengthAdjust="spacingAndGlyphs" stroke="#000" stroke-width="0.22" >27874.0</text>
<rect x="1683" y="357" width="2" height="1" fill="#000"/>
<text x="1688" y="360.6" font-size="9.6" fill="#000" textLength="33.3" lengthAdjust="spacingAndGlyphs" stroke="#000" stroke-width="0.22" >27466.0</text>
<rect x="1683" y="390" width="2" height="1" fill="#000"/>
<text x="1688" y="393.6" font-size="9.6" fill="#000" textLength="33.3" lengthAdjust="spacingAndGlyphs" stroke="#000" stroke-width="0.22" >27070.0</text>
<rect x="1683" y="423" width="2" height="1" fill="#000"/>
<text x="1688" y="426.6" font-size="9.6" fill="#000" textLength="33.3" lengthAdjust="spacingAndGlyphs" stroke="#000" stroke-width="0.22" >26662.0</text>
<rect x="1683" y="456" width="2" height="1" fill="#000"/>
<text x="1688" y="459.6" font-size="9.6" fill="#000" textLength="33.3" lengthAdjust="spacingAndGlyphs" stroke="#000" stroke-width="0.22" >26266.0</text>
<rect x="1683" y="489" width="2" height="1" fill="#000"/>
<text x="1688" y="492.6" font-size="9.6" fill="#000" textLength="33.3" lengthAdjust="spacingAndGlyphs" stroke="#000" stroke-width="0.22" >25858.0</text>
<rect x="1683" y="522" width="2" height="1" fill="#000"/>
<text x="1688" y="525.6" font-size="9.6" fill="#000" textLength="33.3" lengthAdjust="spacingAndGlyphs" stroke="#000" stroke-width="0.22" >25462.0</text>
<rect x="1683" y="555" width="2" height="1" fill="#000"/>
<text x="1688" y="558.6" font-size="9.6" fill="#000" textLength="33.3" lengthAdjust="spacingAndGlyphs" stroke="#000" stroke-width="0.22" >25054.0</text>
<rect x="1683" y="588" width="2" height="1" fill="#000"/>
<text x="1688" y="591.6" font-size="9.6" fill="#000" textLength="33.3" lengthAdjust="spacingAndGlyphs" stroke="#000" stroke-width="0.22" >24658.0</text>
<rect x="1684" y="69" width="41" height="11" fill="#000" shape-rendering="crispEdges"/>
<text x="1688" y="78.2" font-size="9.6" fill="#fff" textLength="33.3" lengthAdjust="spacingAndGlyphs" >30912.0</text>
<rect x="1684" y="30" width="41" height="11" fill="#ff0000" shape-rendering="crispEdges"/>
<text x="1688" y="39.2" font-size="9.6" fill="#fff" textLength="33.3" lengthAdjust="spacingAndGlyphs" >31380.4</text>
<rect x="1684" y="44" width="41" height="11" fill="#ff0000" shape-rendering="crispEdges"/>
<text x="1688" y="53.2" font-size="9.6" fill="#fff" textLength="33.3" lengthAdjust="spacingAndGlyphs" >31211.1</text>
<rect x="1684" y="78" width="41" height="11" fill="#0000ff" shape-rendering="crispEdges"/>
<text x="1688" y="87.2" font-size="9.6" fill="#fff" textLength="33.3" lengthAdjust="spacingAndGlyphs" >30788.1</text>
<rect x="1684" y="64" width="41" height="11" fill="#32cd32" shape-rendering="crispEdges"/>
<text x="1688" y="73.2" font-size="9.6" fill="#fff" textLength="33.3" lengthAdjust="spacingAndGlyphs" >30969.4</text>
<rect x="1684" y="94" width="41" height="11" fill="#0000ff" shape-rendering="crispEdges"/>
<text x="1688" y="103.2" font-size="9.6" fill="#fff" textLength="33.3" lengthAdjust="spacingAndGlyphs" >30594.6</text>
<g shape-rendering="crispEdges">
<rect x="0" y="666" width="1" height="18" fill="#c0c0c0"/>
<rect x="8" y="677" width="1" height="7" fill="#c0c0c0"/>
<rect x="16" y="683" width="1" height="3" fill="#c0c0c0"/>
<rect x="24" y="683" width="1" height="3" fill="#c0c0c0"/>
<rect x="32" y="683" width="1" height="2" fill="#c0c0c0"/>
<rect x="40" y="683" width="1" height="1" fill="#c0c0c0"/>
<rect x="48" y="683" width="1" height="1" fill="#c0c0c0"/>
<rect x="56" y="682" width="1" height="2" fill="#c0c0c0"/>
<rect x="64" y="680" width="1" height="4" fill="#c0c0c0"/>
<rect x="72" y="672" width="1" height="12" fill="#c0c0c0"/>
<rect x="80" y="672" width="1" height="12" fill="#c0c0c0"/>
<rect x="88" y="669" width="1" height="15" fill="#c0c0c0"/>
<rect x="96" y="672" width="1" height="12" fill="#c0c0c0"/>
<rect x="104" y="670" width="1" height="14" fill="#c0c0c0"/>
<rect x="112" y="668" width="1" height="16" fill="#c0c0c0"/>
<rect x="120" y="666" width="1" height="18" fill="#c0c0c0"/>
<rect x="128" y="656" width="1" height="28" fill="#c0c0c0"/>
<rect x="136" y="649" width="1" height="35" fill="#c0c0c0"/>
<rect x="144" y="645" width="1" height="39" fill="#c0c0c0"/>
<rect x="152" y="644" width="1" height="40" fill="#c0c0c0"/>
<rect x="160" y="643" width="1" height="41" fill="#c0c0c0"/>
<rect x="168" y="642" width="1" height="42" fill="#c0c0c0"/>
<rect x="176" y="640" width="1" height="44" fill="#c0c0c0"/>
<rect x="184" y="638" width="1" height="46" fill="#c0c0c0"/>
<rect x="192" y="640" width="1" height="44" fill="#c0c0c0"/>
<rect x="200" y="645" width="1" height="39" fill="#c0c0c0"/>
<rect x="208" y="650" width="1" height="34" fill="#c0c0c0"/>
<rect x="216" y="652" width="1" height="32" fill="#c0c0c0"/>
<rect x="224" y="656" width="1" height="28" fill="#c0c0c0"/>
<rect x="232" y="658" width="1" height="26" fill="#c0c0c0"/>
<rect x="240" y="660" width="1" height="24" fill="#c0c0c0"/>
<rect x="248" y="663" width="1" height="21" fill="#c0c0c0"/>
<rect x="256" y="666" width="1" height="18" fill="#c0c0c0"/>
<rect x="264" y="665" width="1" height="19" fill="#c0c0c0"/>
<rect x="272" y="663" width="1" height="21" fill="#c0c0c0"/>
<rect x="280" y="657" width="1" height="27" fill="#c0c0c0"/>
<rect x="288" y="650" width="1" height="34" fill="#c0c0c0"/>
<rect x="296" y="644" width="1" height="40" fill="#c0c0c0"/>
<rect x="304" y="640" width="1" height="44" fill="#c0c0c0"/>
<rect x="312" y="633" width="1" height="51" fill="#c0c0c0"/>
<rect x="320" y="629" width="1" height="55" fill="#c0c0c0"/>
<rect x="328" y="623" width="1" height="61" fill="#c0c0c0"/>
<rect x="336" y="619" width="1" height="65" fill="#c0c0c0"/>
<rect x="344" y="618" width="1" height="66" fill="#c0c0c0"/>
<rect x="352" y="617" width="1" height="67" fill="#c0c0c0"/>
<rect x="360" y="617" width="1" height="67" fill="#c0c0c0"/>
<rect x="368" y="619" width="1" height="65" fill="#c0c0c0"/>
<rect x="376" y="624" width="1" height="60" fill="#c0c0c0"/>
<rect x="384" y="626" width="1" height="58" fill="#c0c0c0"/>
<rect x="392" y="627" width="1" height="57" fill="#c0c0c0"/>
<rect x="400" y="628" width="1" height="56" fill="#c0c0c0"/>
<rect x="408" y="624" width="1" height="60" fill="#c0c0c0"/>
<rect x="416" y="623" width="1" height="61" fill="#c0c0c0"/>
<rect x="424" y="622" width="1" height="62" fill="#c0c0c0"/>
<rect x="432" y="619" width="1" height="65" fill="#c0c0c0"/>
<rect x="440" y="616" width="1" height="68" fill="#c0c0c0"/>
<rect x="448" y="613" width="1" height="71" fill="#c0c0c0"/>
<rect x="456" y="615" width="1" height="69" fill="#c0c0c0"/>
<rect x="464" y="615" width="1" height="69" fill="#c0c0c0"/>
<rect x="472" y="609" width="1" height="75" fill="#c0c0c0"/>
<rect x="480" y="618" width="1" height="66" fill="#c0c0c0"/>
<rect x="488" y="627" width="1" height="57" fill="#c0c0c0"/>
<rect x="496" y="635" width="1" height="49" fill="#c0c0c0"/>
<rect x="504" y="638" width="1" height="46" fill="#c0c0c0"/>
<rect x="512" y="652" width="1" height="32" fill="#c0c0c0"/>
<rect x="520" y="656" width="1" height="28" fill="#c0c0c0"/>
<rect x="528" y="665" width="1" height="19" fill="#c0c0c0"/>
<rect x="536" y="672" width="1" height="12" fill="#c0c0c0"/>
<rect x="544" y="675" width="1" height="9" fill="#c0c0c0"/>
<rect x="552" y="675" width="1" height="9" fill="#c0c0c0"/>
<rect x="560" y="677" width="1" height="7" fill="#c0c0c0"/>
<rect x="568" y="678" width="1" height="6" fill="#c0c0c0"/>
<rect x="576" y="680" width="1" height="4" fill="#c0c0c0"/>
<rect x="584" y="683" width="1" height="1" fill="#c0c0c0"/>
<rect x="592" y="683" width="1" height="4" fill="#c0c0c0"/>
<rect x="600" y="683" width="1" height="13" fill="#c0c0c0"/>
<rect x="608" y="683" width="1" height="18" fill="#c0c0c0"/>
<rect x="616" y="683" width="1" height="30" fill="#c0c0c0"/>
<rect x="624" y="683" width="1" height="36" fill="#c0c0c0"/>
<rect x="632" y="683" width="1" height="37" fill="#c0c0c0"/>
<rect x="640" y="683" width="1" height="37" fill="#c0c0c0"/>
<rect x="648" y="683" width="1" height="31" fill="#c0c0c0"/>
<rect x="656" y="683" width="1" height="28" fill="#c0c0c0"/>
<rect x="664" y="683" width="1" height="21" fill="#c0c0c0"/>
<rect x="672" y="683" width="1" height="16" fill="#c0c0c0"/>
<rect x="680" y="683" width="1" height="13" fill="#c0c0c0"/>
<rect x="688" y="683" width="1" height="9" fill="#c0c0c0"/>
<rect x="696" y="683" width="1" height="1" fill="#c0c0c0"/>
<rect x="704" y="683" width="1" height="1" fill="#c0c0c0"/>
<rect x="712" y="677" width="1" height="7" fill="#c0c0c0"/>
<rect x="720" y="669" width="1" height="15" fill="#c0c0c0"/>
<rect x="728" y="661" width="1" height="23" fill="#c0c0c0"/>
<rect x="736" y="655" width="1" height="29" fill="#c0c0c0"/>
<rect x="744" y="648" width="1" height="36" fill="#c0c0c0"/>
<rect x="752" y="644" width="1" height="40" fill="#c0c0c0"/>
<rect x="760" y="644" width="1" height="40" fill="#c0c0c0"/>
<rect x="768" y="645" width="1" height="39" fill="#c0c0c0"/>
<rect x="776" y="646" width="1" height="38" fill="#c0c0c0"/>
<rect x="784" y="646" width="1" height="38" fill="#c0c0c0"/>
<rect x="792" y="650" width="1" height="34" fill="#c0c0c0"/>
<rect x="800" y="653" width="1" height="31" fill="#c0c0c0"/>
<rect x="808" y="659" width="1" height="25" fill="#c0c0c0"/>
<rect x="816" y="661" width="1" height="23" fill="#c0c0c0"/>
<rect x="824" y="663" width="1" height="21" fill="#c0c0c0"/>
<rect x="832" y="667" width="1" height="17" fill="#c0c0c0"/>
<rect x="840" y="676" width="1" height="8" fill="#c0c0c0"/>
<rect x="848" y="683" width="1" height="4" fill="#c0c0c0"/>
<rect x="856" y="683" width="1" height="21" fill="#c0c0c0"/>
<rect x="864" y="683" width="1" height="37" fill="#c0c0c0"/>
<rect x="872" y="683" width="1" height="48" fill="#c0c0c0"/>
<rect x="880" y="683" width="1" height="58" fill="#c0c0c0"/>
<rect x="888" y="683" width="1" height="58" fill="#c0c0c0"/>
<rect x="896" y="683" width="1" height="49" fill="#c0c0c0"/>
<rect x="904" y="683" width="1" height="39" fill="#c0c0c0"/>
<rect x="912" y="683" width="1" height="25" fill="#c0c0c0"/>
<rect x="920" y="683" width="1" height="13" fill="#c0c0c0"/>
<rect x="928" y="683" width="1" height="1" fill="#c0c0c0"/>
<rect x="936" y="667" width="1" height="17" fill="#c0c0c0"/>
<rect x="944" y="651" width="1" height="33" fill="#c0c0c0"/>
<rect x="952" y="639" width="1" height="45" fill="#c0c0c0"/>
<rect x="960" y="634" width="1" height="50" fill="#c0c0c0"/>
<rect x="968" y="625" width="1" height="59" fill="#c0c0c0"/>
<rect x="976" y="617" width="1" height="67" fill="#c0c0c0"/>
<rect x="984" y="607" width="1" height="77" fill="#c0c0c0"/>
<rect x="992" y="602" width="1" height="82" fill="#c0c0c0"/>
<rect x="1000" y="604" width="1" height="80" fill="#c0c0c0"/>
<rect x="1008" y="609" width="1" height="75" fill="#c0c0c0"/>
<rect x="1016" y="614" width="1" height="70" fill="#c0c0c0"/>
<rect x="1024" y="618" width="1" height="66" fill="#c0c0c0"/>
<rect x="1032" y="616" width="1" height="68" fill="#c0c0c0"/>
<rect x="1040" y="610" width="1" height="74" fill="#c0c0c0"/>
<rect x="1048" y="610" width="1" height="74" fill="#c0c0c0"/>
<rect x="1056" y="612" width="1" height="72" fill="#c0c0c0"/>
<rect x="1064" y="613" width="1" height="71" fill="#c0c0c0"/>
<rect x="1072" y="614" width="1" height="70" fill="#c0c0c0"/>
<rect x="1080" y="616" width="1" height="68" fill="#c0c0c0"/>
<rect x="1088" y="617" width="1" height="67" fill="#c0c0c0"/>
<rect x="1096" y="621" width="1" height="63" fill="#c0c0c0"/>
<rect x="1104" y="621" width="1" height="63" fill="#c0c0c0"/>
<rect x="1112" y="622" width="1" height="62" fill="#c0c0c0"/>
<rect x="1120" y="620" width="1" height="64" fill="#c0c0c0"/>
<rect x="1128" y="623" width="1" height="61" fill="#c0c0c0"/>
<rect x="1136" y="623" width="1" height="61" fill="#c0c0c0"/>
<rect x="1144" y="627" width="1" height="57" fill="#c0c0c0"/>
<rect x="1152" y="629" width="1" height="55" fill="#c0c0c0"/>
<rect x="1160" y="632" width="1" height="52" fill="#c0c0c0"/>
<rect x="1168" y="634" width="1" height="50" fill="#c0c0c0"/>
<rect x="1176" y="638" width="1" height="46" fill="#c0c0c0"/>
<rect x="1184" y="640" width="1" height="44" fill="#c0c0c0"/>
<rect x="1192" y="642" width="1" height="42" fill="#c0c0c0"/>
<rect x="1200" y="643" width="1" height="41" fill="#c0c0c0"/>
<rect x="1208" y="645" width="1" height="39" fill="#c0c0c0"/>
<rect x="1216" y="647" width="1" height="37" fill="#c0c0c0"/>
<rect x="1224" y="649" width="1" height="35" fill="#c0c0c0"/>
<rect x="1232" y="653" width="1" height="31" fill="#c0c0c0"/>
<rect x="1240" y="655" width="1" height="29" fill="#c0c0c0"/>
<rect x="1248" y="657" width="1" height="27" fill="#c0c0c0"/>
<rect x="1256" y="658" width="1" height="26" fill="#c0c0c0"/>
<rect x="1264" y="657" width="1" height="27" fill="#c0c0c0"/>
<rect x="1272" y="657" width="1" height="27" fill="#c0c0c0"/>
<rect x="1280" y="656" width="1" height="28" fill="#c0c0c0"/>
<rect x="1288" y="655" width="1" height="29" fill="#c0c0c0"/>
<rect x="1296" y="654" width="1" height="30" fill="#c0c0c0"/>
<rect x="1304" y="656" width="1" height="28" fill="#c0c0c0"/>
<rect x="1312" y="660" width="1" height="24" fill="#c0c0c0"/>
<rect x="1320" y="657" width="1" height="27" fill="#c0c0c0"/>
<rect x="1328" y="649" width="1" height="35" fill="#c0c0c0"/>
<rect x="1336" y="644" width="1" height="40" fill="#c0c0c0"/>
<rect x="1344" y="642" width="1" height="42" fill="#c0c0c0"/>
<rect x="1352" y="641" width="1" height="43" fill="#c0c0c0"/>
<rect x="1360" y="640" width="1" height="44" fill="#c0c0c0"/>
<rect x="1368" y="639" width="1" height="45" fill="#c0c0c0"/>
<rect x="1376" y="640" width="1" height="44" fill="#c0c0c0"/>
<rect x="1384" y="645" width="1" height="39" fill="#c0c0c0"/>
<rect x="1392" y="649" width="1" height="35" fill="#c0c0c0"/>
<rect x="1400" y="651" width="1" height="33" fill="#c0c0c0"/>
<rect x="1408" y="651" width="1" height="33" fill="#c0c0c0"/>
<rect x="1416" y="649" width="1" height="35" fill="#c0c0c0"/>
<rect x="1424" y="647" width="1" height="37" fill="#c0c0c0"/>
<rect x="1432" y="648" width="1" height="36" fill="#c0c0c0"/>
</g>
<polyline points="0.0,641.5 6.9,645.8 17.4,656.2 29.5,664.9 41.6,671.8 53.8,677.4 64.2,680.5 72.9,681.4 83.3,679.6 97.2,677.4 107.6,674.4 121.5,671.0 130.1,667.8 138.8,664.0 147.5,660.9 156.2,657.9 166.6,653.6 177.0,649.3 185.7,646.1 192.6,643.2 201.3,642.3 215.2,643.2 225.6,644.9 236.0,646.7 246.4,649.3 256.8,654.1 267.2,657.1 277.6,658.8 288.0,659.3 297.7,657.6 304.7,656.2 313.4,652.7 322.0,648.4 329.0,643.7 335.9,639.7 342.9,635.4 351.5,629.3 360.2,625.8 368.9,622.9 379.3,621.0 389.7,620.3 400.1,621.2 410.5,621.5 417.5,622.5 431.3,622.5 443.5,622.4 452.2,621.2 460.8,619.4 467.8,617.2 476.5,616.5 495.5,616.5 504.2,620.1 514.6,625.8 526.8,633.3 535.5,638.9 544.1,648.4 556.3,657.6 568.4,664.9 580.6,671.5 592.0,676.2 602.4,680.5 612.8,685.7 623.2,691.4 633.6,698.7 644.1,703.9 654.5,708.6 664.9,711.4 678.8,711.4 689.2,707.9 699.6,703.4 710.0,697.8 720.4,690.6 730.8,683.1 741.2,677.0 751.6,668.9 760.3,662.3 770.7,657.1 781.1,651.9 789.8,648.4 800.2,647.5 810.6,648.4 822.8,650.6 833.2,653.6 841.9,657.9 852.3,664.9 862.7,674.4 873.1,686.6 883.5,697.8 888.0,703.9 894.9,710.9 903.6,716.9 912.3,721.3 921.0,722.1 927.9,719.5 938.3,710.9 948.7,698.7 959.1,683.1 969.6,667.5 978.2,655.3 985.2,644.1 992.1,635.4 1000.8,626.7 1009.5,619.8 1018.1,615.9 1026.8,612.8 1037.2,609.9 1044.2,609.0 1054.6,609.9 1070.2,611.6 1087.6,612.8 1104.9,613.7 1122.3,616.3 1139.6,619.8 1158.7,622.9 1176.0,625.0 1184.0,628.1 1194.4,632.3 1206.6,635.4 1218.7,639.7 1229.1,642.7 1253.4,649.3 1281.2,654.5 1305.5,656.2 1322.8,655.3 1340.2,652.7 1350.6,651.0 1364.5,647.2 1374.9,644.1 1388.8,642.7 1402.6,642.7 1416.5,644.1 1432.5,646.7" fill="none" stroke="#ff0000" stroke-width="1" stroke-dasharray="3 3" shape-rendering="crispEdges"/>
<line x1="1016.5" y1="603.5" x2="1288.8" y2="654.3" stroke="#f00" stroke-width="3"/>
<polygon points="1295.0,655.5 1283.8,658.5 1285.6,648.7" fill="#f00"/>
<line x1="1295.0" y1="656.0" x2="1426.7" y2="650.8" stroke="#f00" stroke-width="3"/>
<polygon points="1433.0,650.5 1422.7,655.9 1422.3,645.9" fill="#f00"/>
<text x="-2" y="605.8" font-size="9.6" fill="#000" textLength="126" lengthAdjust="spacingAndGlyphs" stroke="#000" stroke-width="0.22" >MACD(12,26,9) 212.33 236.44</text>
<rect x="1683" y="594" width="2" height="1" fill="#000"/>
<text x="1686.3" y="603.6" font-size="9.6" fill="#000" textLength="28.5" lengthAdjust="spacingAndGlyphs" stroke="#000" stroke-width="0.22" >565.66</text>
<rect x="1683" y="683" width="2" height="1" fill="#000"/>
<text x="1686.3" y="686.6" font-size="9.6" fill="#000" textLength="17.8" lengthAdjust="spacingAndGlyphs" stroke="#000" stroke-width="0.22" >0.00</text>
<rect x="1683" y="748" width="2" height="1" fill="#000"/>
<text x="1686.3" y="745.7" font-size="9.6" fill="#000" textLength="30.5" lengthAdjust="spacingAndGlyphs" stroke="#000" stroke-width="0.22" >-419.33</text>
<line x1="3" y1="787.5" x2="1682" y2="787.5" stroke="#c0c0c0" stroke-width="1" stroke-dasharray="3 3" shape-rendering="crispEdges"/>
<line x1="3" y1="838.5" x2="1682" y2="838.5" stroke="#c0c0c0" stroke-width="1" stroke-dasharray="3 3" shape-rendering="crispEdges"/>
<line x1="3" y1="899.5" x2="1682" y2="899.5" stroke="#c0c0c0" stroke-width="1" stroke-dasharray="3 3" shape-rendering="crispEdges"/>
<polyline points="0.5,840.6 8.5,849.2 16.5,850.3 24.5,838.3 32.5,837.2 40.5,838.3 48.5,835.4 56.5,837.2 64.5,833.2 72.5,826.4 80.5,835.4 88.5,832.3 96.5,838.3 104.5,832.6 112.5,831.3 120.5,831.3 128.5,818.0 136.5,818.0 144.5,822.1 152.5,825.4 160.5,823.4 168.5,823.0 176.5,819.3 184.5,818.0 192.5,827.6 200.5,835.4 208.5,835.4 216.5,829.5 224.5,836.5 232.5,833.2 240.5,833.2 248.5,836.3 256.5,836.3 264.5,827.6 272.5,823.4 280.5,812.5 288.5,808.8 296.5,807.2 304.5,808.6 312.5,800.3 320.5,801.4 328.5,797.2 336.5,797.2 344.5,802.2 352.5,800.3 360.5,803.7 368.5,809.6 376.5,819.3 384.5,813.8 392.5,810.7 400.5,808.6 408.5,798.5 416.5,804.6 424.5,800.9 432.5,796.3 440.5,795.4 448.5,792.2 456.5,811.4 464.5,804.2 472.5,796.3 480.5,833.2 488.5,835.4 496.5,835.4 504.5,828.2 512.5,851.6 520.5,836.3 528.5,845.5 536.5,845.5 544.5,840.9 552.5,836.3 560.5,839.3 568.5,837.2 576.5,841.5 584.5,846.1 592.5,847.4 600.5,858.5 608.5,853.5 616.5,866.4 624.5,858.1 632.5,852.6 640.5,850.3 648.5,838.3 656.5,841.5 664.5,833.2 672.5,835.0 680.5,839.3 688.5,833.2 696.5,828.6 704.5,838.3 712.5,824.0 720.5,819.9 728.5,818.4 736.5,820.3 744.5,814.7 752.5,819.3 760.5,825.2 768.5,825.2 776.5,826.4 784.5,823.4 792.5,834.1 800.5,832.3 808.5,842.4 816.5,832.3 824.5,836.5 832.5,839.6 840.5,853.5 848.5,861.8 856.5,873.4 864.5,876.5 872.5,874.3 880.5,877.5 888.5,856.0 896.5,838.3 904.5,835.9 912.5,824.3 920.5,824.3 928.5,820.3 936.5,810.7 944.5,807.4 952.5,807.4 960.5,816.2 968.5,809.6 976.5,806.4 984.5,803.3 992.5,806.8 1000.5,818.4 1008.5,824.3 1016.5,825.4 1024.5,823.4 1032.5,813.8 1040.5,808.6 1048.5,814.7 1056.5,817.1 1064.5,815.3 1072.5,815.3 1080.5,821.6 1088.5,820.3 1096.5,818.4 1104.5,815.7 1112.5,811.0 1120.5,809.6 1128.5,819.3 1136.5,814.7 1144.5,819.3 1152.5,820.3 1160.5,820.3 1168.5,816.2 1176.5,828.2 1184.5,822.5 1192.5,823.4 1200.5,820.3 1208.5,822.5 1216.5,822.5 1224.5,826.4 1232.5,832.3 1240.5,828.2 1248.5,827.3 1256.5,824.0 1264.5,815.7 1272.5,822.1 1280.5,818.0 1288.5,813.3 1296.5,812.3 1304.5,835.9 1312.5,830.4 1320.5,812.0 1328.5,807.4 1336.5,805.1 1344.5,811.4 1352.5,811.4 1360.5,809.6 1368.5,810.5 1376.5,813.3 1384.5,830.4 1392.5,829.5 1400.5,824.9 1408.5,819.9 1416.5,811.4 1424.5,816.0 1432.5,823.4" fill="none" stroke="#1e90ff" stroke-width="1" shape-rendering="crispEdges"/>
<text x="-2" y="764" font-size="9.6" fill="#000" textLength="66" lengthAdjust="spacingAndGlyphs" stroke="#000" stroke-width="0.22" >RSI(14) 58.6372</text>
<rect x="1683" y="753" width="2" height="1" fill="#000"/>
<text x="1686.3" y="761.8" font-size="9.6" fill="#000" textLength="14.8" lengthAdjust="spacingAndGlyphs" stroke="#000" stroke-width="0.22" >100</text>
<text x="1685" y="790.7" font-size="9.6" fill="#000" textLength="9.7" lengthAdjust="spacingAndGlyphs" stroke="#000" stroke-width="0.22" >80</text>
<text x="1685.3" y="841.7" font-size="9.6" fill="#000" textLength="9.7" lengthAdjust="spacingAndGlyphs" stroke="#000" stroke-width="0.22" >50</text>
<text x="1685.3" y="902.8" font-size="9.6" fill="#000" textLength="9.7" lengthAdjust="spacingAndGlyphs" stroke="#000" stroke-width="0.22" >15</text>
<text x="1686.3" y="921.4" font-size="9.6" fill="#000" stroke="#000" stroke-width="0.22" >0</text>
<rect x="1683" y="924" width="2" height="1" fill="#000"/>
<rect x="-8" y="926" width="1" height="3" fill="#000"/>
<text x="-8.8" y="938" font-size="9.6" fill="#000" textLength="49.3" lengthAdjust="spacingAndGlyphs" stroke="#000" stroke-width="0.22" >24 Jun 2020</text>
<rect x="56" y="926" width="1" height="3" fill="#000"/>
<text x="55.2" y="938" font-size="9.6" fill="#000" textLength="41.3" lengthAdjust="spacingAndGlyphs" stroke="#000" stroke-width="0.22" >3 Jul 2020</text>
<rect x="120" y="926" width="1" height="3" fill="#000"/>
<text x="119.2" y="938" font-size="9.6" fill="#000" textLength="46.3" lengthAdjust="spacingAndGlyphs" stroke="#000" stroke-width="0.22" >13 Jul 2020</text>
<rect x="184" y="926" width="1" height="3" fill="#000"/>
<text x="183.2" y="938" font-size="9.6" fill="#000" textLength="46.3" lengthAdjust="spacingAndGlyphs" stroke="#000" stroke-width="0.22" >22 Jul 2020</text>
<rect x="248" y="926" width="1" height="3" fill="#000"/>
<text x="247.2" y="938" font-size="9.6" fill="#000" textLength="46.3" lengthAdjust="spacingAndGlyphs" stroke="#000" stroke-width="0.22" >31 Jul 2020</text>
<rect x="312" y="926" width="1" height="3" fill="#000"/>
<text x="311.2" y="938" font-size="9.6" fill="#000" textLength="51.3" lengthAdjust="spacingAndGlyphs" stroke="#000" stroke-width="0.22" >10 Aug 2020</text>
<rect x="376" y="926" width="1" height="3" fill="#000"/>
<text x="375.2" y="938" font-size="9.6" fill="#000" textLength="51.3" lengthAdjust="spacingAndGlyphs" stroke="#000" stroke-width="0.22" >19 Aug 2020</text>
<rect x="440" y="926" width="1" height="3" fill="#000"/>
<text x="439.2" y="938" font-size="9.6" fill="#000" textLength="51.3" lengthAdjust="spacingAndGlyphs" stroke="#000" stroke-width="0.22" >28 Aug 2020</text>
<rect x="504" y="926" width="1" height="3" fill="#000"/>
<text x="503.2" y="938" font-size="9.6" fill="#000" textLength="45.3" lengthAdjust="spacingAndGlyphs" stroke="#000" stroke-width="0.22" >7 Sep 2020</text>
<rect x="568" y="926" width="1" height="3" fill="#000"/>
<text x="567.2" y="938" font-size="9.6" fill="#000" textLength="50.3" lengthAdjust="spacingAndGlyphs" stroke="#000" stroke-width="0.22" >16 Sep 2020</text>
<rect x="632" y="926" width="1" height="3" fill="#000"/>
<text x="631.2" y="938" font-size="9.6" fill="#000" textLength="50.3" lengthAdjust="spacingAndGlyphs" stroke="#000" stroke-width="0.22" >25 Sep 2020</text>
<rect x="696" y="926" width="1" height="3" fill="#000"/>
<text x="695.2" y="938" font-size="9.6" fill="#000" textLength="43.3" lengthAdjust="spacingAndGlyphs" stroke="#000" stroke-width="0.22" >5 Oct 2020</text>
<rect x="760" y="926" width="1" height="3" fill="#000"/>
<text x="759.2" y="938" font-size="9.6" fill="#000" textLength="48.3" lengthAdjust="spacingAndGlyphs" stroke="#000" stroke-width="0.22" >14 Oct 2020</text>
<rect x="824" y="926" width="1" height="3" fill="#000"/>
<text x="823.2" y="938" font-size="9.6" fill="#000" textLength="48.3" lengthAdjust="spacingAndGlyphs" stroke="#000" stroke-width="0.22" >23 Oct 2020</text>
<rect x="888" y="926" width="1" height="3" fill="#000"/>
<text x="887.2" y="938" font-size="9.6" fill="#000" textLength="45.3" lengthAdjust="spacingAndGlyphs" stroke="#000" stroke-width="0.22" >2 Nov 2020</text>
<rect x="952" y="926" width="1" height="3" fill="#000"/>
<text x="951.2" y="938" font-size="9.6" fill="#000" textLength="50.3" lengthAdjust="spacingAndGlyphs" stroke="#000" stroke-width="0.22" >11 Nov 2020</text>
<rect x="1016" y="926" width="1" height="3" fill="#000"/>
<text x="1015.2" y="938" font-size="9.6" fill="#000" textLength="50.3" lengthAdjust="spacingAndGlyphs" stroke="#000" stroke-width="0.22" >20 Nov 2020</text>
<rect x="1080" y="926" width="1" height="3" fill="#000"/>
<text x="1079.2" y="938" font-size="9.6" fill="#000" textLength="50.3" lengthAdjust="spacingAndGlyphs" stroke="#000" stroke-width="0.22" >30 Nov 2020</text>
<rect x="1144" y="926" width="1" height="3" fill="#000"/>
<text x="1143.2" y="938" font-size="9.6" fill="#000" textLength="45.3" lengthAdjust="spacingAndGlyphs" stroke="#000" stroke-width="0.22" >9 Dec 2020</text>
<rect x="1208" y="926" width="1" height="3" fill="#000"/>
<text x="1207.2" y="938" font-size="9.6" fill="#000" textLength="50.3" lengthAdjust="spacingAndGlyphs" stroke="#000" stroke-width="0.22" >18 Dec 2020</text>
<rect x="1272" y="926" width="1" height="3" fill="#000"/>
<text x="1271.2" y="938" font-size="9.6" fill="#000" textLength="50.3" lengthAdjust="spacingAndGlyphs" stroke="#000" stroke-width="0.22" >29 Dec 2020</text>
<rect x="1336" y="926" width="1" height="3" fill="#000"/>
<text x="1335.2" y="938" font-size="9.6" fill="#000" textLength="44.3" lengthAdjust="spacingAndGlyphs" stroke="#000" stroke-width="0.22" >8 Jan 2021</text>
<rect x="1400" y="926" width="1" height="3" fill="#000"/>
<text x="1399.2" y="938" font-size="9.6" fill="#000" textLength="49.3" lengthAdjust="spacingAndGlyphs" stroke="#000" stroke-width="0.22" >18 Jan 2021</text>
</svg></body></html>
